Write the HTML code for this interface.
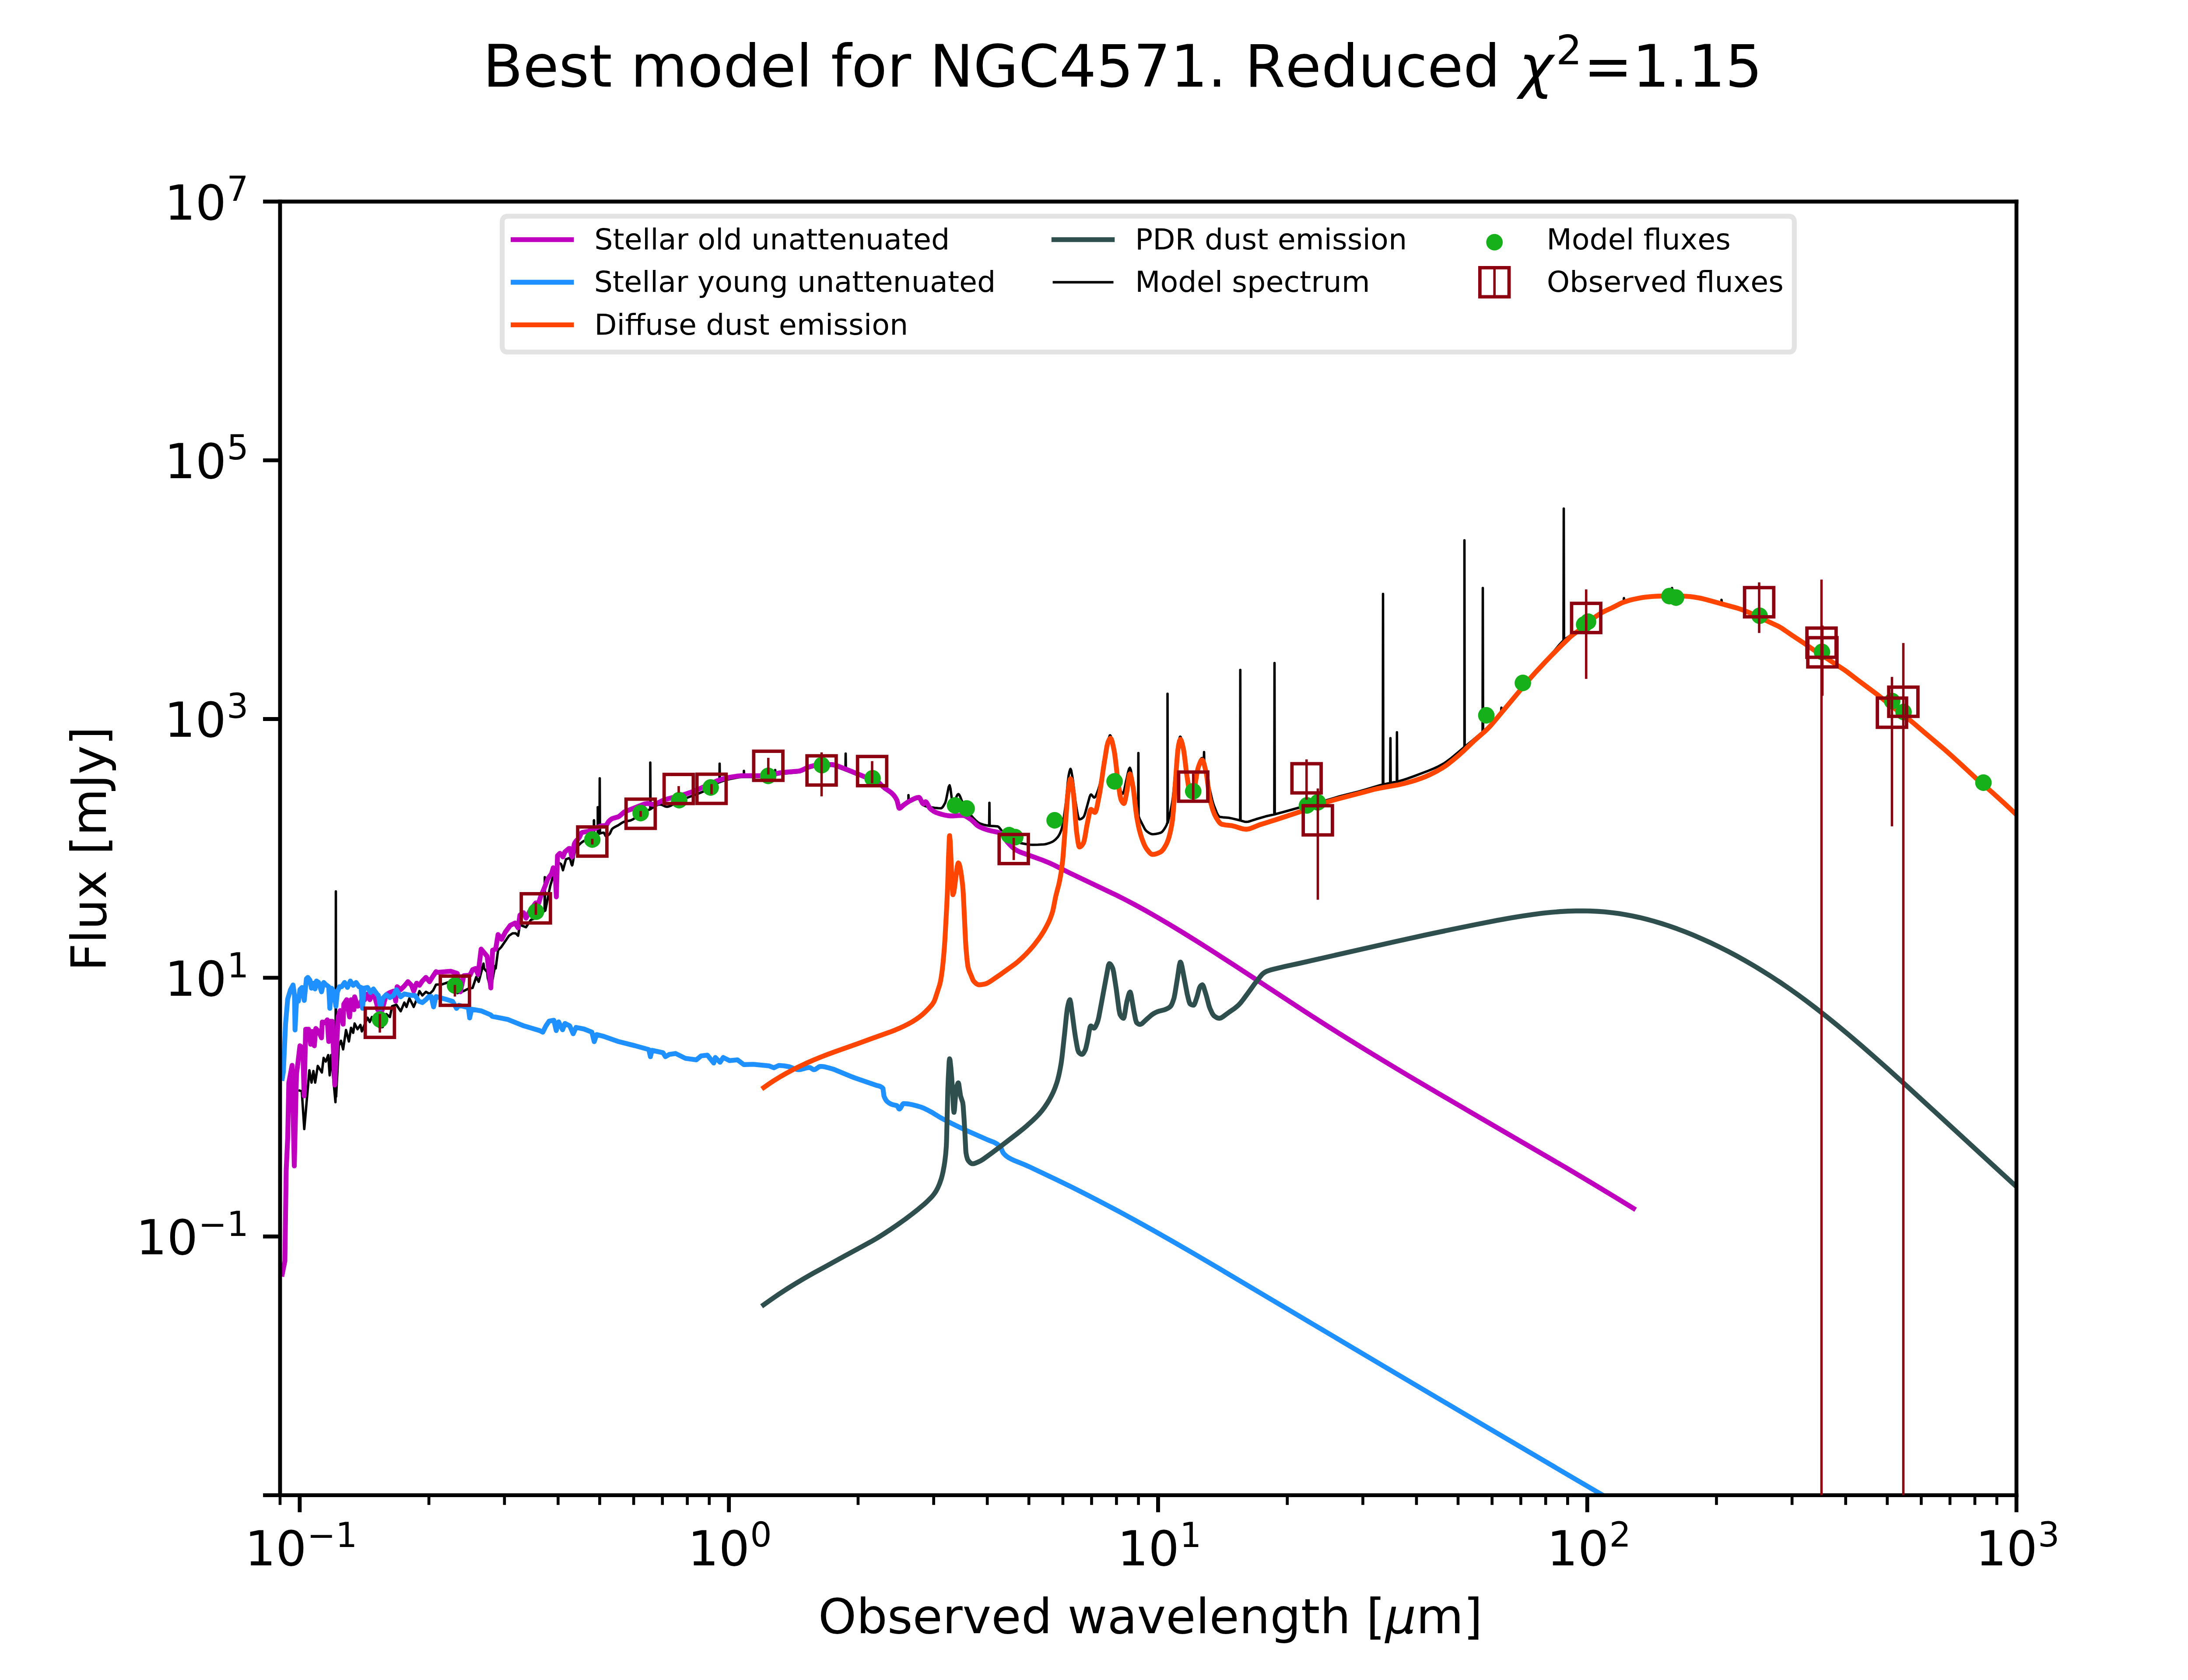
<!DOCTYPE html>
<html><head><meta charset="utf-8"><title>Best model for NGC4571</title>
<style>html,body{margin:0;padding:0;background:#fff;}body{width:5120px;height:3840px;overflow:hidden;font-family:"DejaVu Sans",sans-serif;}svg{display:block;}text{font-kerning:none;}</style>
</head><body>
<svg width="5120" height="3840" viewBox="0 0 460.8 345.6" version="1.1">
<defs>
<style type="text/css">*{stroke-linejoin: round; stroke-linecap: butt}</style>
</defs>
<g id="figure_1">
<g id="patch_1">
<path d="M 0 345.6 
L 460.8 345.6 
L 460.8 0 
L 0 0 
z
" style="fill: #ffffff"/>
</g>
<g id="axes_1">
<g id="patch_2">
<path d="M 57.6 307.584 
L 414.72 307.584 
L 414.72 41.472 
L 57.6 41.472 
z
" style="fill: #ffffff"/>
</g>
<g id="matplotlib.axis_1">
<g id="xtick_1">
<g id="line2d_1">
<defs>
<path id="m1504cfccaf" d="M 0 0 
L 0 3.5 
" style="stroke: #000000; stroke-width: 0.8"/>
</defs>
<g>
<use href="#m1504cfccaf" x="61.639" y="307.584" style="stroke: #000000; stroke-width: 0.8"/>
</g>
</g>
<g id="T_xt2" transform="translate(0.045 -0.045)">
<g transform="translate(50.304 322.144)">
<text>
<tspan x="0" y="-0.064" style="font-size: 10px; font-family: 'DejaVu Sans', sans-serif">1</tspan>
<tspan x="6.362" y="-0.064" style="font-size: 10px; font-family: 'DejaVu Sans', sans-serif">0</tspan>
<tspan x="12.82" y="-3.892" style="font-size: 7px; font-family: 'DejaVu Sans', sans-serif">−</tspan>
<tspan x="18.686" y="-3.892" style="font-size: 7px; font-family: 'DejaVu Sans', sans-serif">1</tspan>
</text>
</g>
</g>
</g>
<g id="xtick_2">
<g id="line2d_2">
<g>
<use href="#m1504cfccaf" x="149.909" y="307.584" style="stroke: #000000; stroke-width: 0.8"/>
</g>
</g>
<g id="T_xt3" transform="translate(0.045 0.810)">
<g transform="translate(141.417 322.171)">
<text>
<tspan x="0" y="-0.977" style="font-size: 10px; font-family: 'DejaVu Sans', sans-serif">1</tspan>
<tspan x="6.362" y="-0.977" style="font-size: 10px; font-family: 'DejaVu Sans', sans-serif">0</tspan>
<tspan x="12.82" y="-4.805" style="font-size: 7px; font-family: 'DejaVu Sans', sans-serif">0</tspan>
</text>
</g>
</g>
</g>
<g id="xtick_3">
<g id="line2d_3">
<g>
<use href="#m1504cfccaf" x="238.18" y="307.584" style="stroke: #000000; stroke-width: 0.8"/>
</g>
</g>
<g id="T_xt4" transform="translate(0.045 -0.045)">
<g transform="translate(229.777 322.144)">
<text>
<tspan x="0" y="-0.064" style="font-size: 10px; font-family: 'DejaVu Sans', sans-serif">1</tspan>
<tspan x="6.362" y="-0.064" style="font-size: 10px; font-family: 'DejaVu Sans', sans-serif">0</tspan>
<tspan x="12.82" y="-3.892" style="font-size: 7px; font-family: 'DejaVu Sans', sans-serif">1</tspan>
</text>
</g>
</g>
</g>
<g id="xtick_4">
<g id="line2d_4">
<g>
<use href="#m1504cfccaf" x="326.45" y="307.584" style="stroke: #000000; stroke-width: 0.8"/>
</g>
</g>
<g id="T_xt5" transform="translate(0.090 0.810)">
<g transform="translate(318.07 322.171)">
<text>
<tspan x="0" y="-0.977" style="font-size: 10px; font-family: 'DejaVu Sans', sans-serif">1</tspan>
<tspan x="6.362" y="-0.977" style="font-size: 10px; font-family: 'DejaVu Sans', sans-serif">0</tspan>
<tspan x="12.82" y="-4.805" style="font-size: 7px; font-family: 'DejaVu Sans', sans-serif">2</tspan>
</text>
</g>
</g>
</g>
<g id="xtick_5">
<g id="line2d_5">
<g>
<use href="#m1504cfccaf" x="414.72" y="307.584" style="stroke: #000000; stroke-width: 0.8"/>
</g>
</g>
<g id="T_xt6" transform="translate(0.045 0.810)">
<g transform="translate(406.273 322.171)">
<text>
<tspan x="0" y="-0.977" style="font-size: 10px; font-family: 'DejaVu Sans', sans-serif">1</tspan>
<tspan x="6.362" y="-0.977" style="font-size: 10px; font-family: 'DejaVu Sans', sans-serif">0</tspan>
<tspan x="12.82" y="-4.805" style="font-size: 7px; font-family: 'DejaVu Sans', sans-serif">3</tspan>
</text>
</g>
</g>
</g>
<g id="xtick_6">
<g id="line2d_6">
<defs>
<path id="m05db3bdf9b" d="M 0 0 
L 0 2 
" style="stroke: #000000; stroke-width: 0.6"/>
</defs>
<g>
<use href="#m05db3bdf9b" x="57.6" y="307.584" style="stroke: #000000; stroke-width: 0.6"/>
</g>
</g>
</g>
<g id="xtick_7">
<g id="line2d_7">
<g>
<use href="#m05db3bdf9b" x="88.211" y="307.584" style="stroke: #000000; stroke-width: 0.6"/>
</g>
</g>
</g>
<g id="xtick_8">
<g id="line2d_8">
<g>
<use href="#m05db3bdf9b" x="103.755" y="307.584" style="stroke: #000000; stroke-width: 0.6"/>
</g>
</g>
</g>
<g id="xtick_9">
<g id="line2d_9">
<g>
<use href="#m05db3bdf9b" x="114.783" y="307.584" style="stroke: #000000; stroke-width: 0.6"/>
</g>
</g>
</g>
<g id="xtick_10">
<g id="line2d_10">
<g>
<use href="#m05db3bdf9b" x="123.337" y="307.584" style="stroke: #000000; stroke-width: 0.6"/>
</g>
</g>
</g>
<g id="xtick_11">
<g id="line2d_11">
<g>
<use href="#m05db3bdf9b" x="130.327" y="307.584" style="stroke: #000000; stroke-width: 0.6"/>
</g>
</g>
</g>
<g id="xtick_12">
<g id="line2d_12">
<g>
<use href="#m05db3bdf9b" x="136.236" y="307.584" style="stroke: #000000; stroke-width: 0.6"/>
</g>
</g>
</g>
<g id="xtick_13">
<g id="line2d_13">
<g>
<use href="#m05db3bdf9b" x="141.355" y="307.584" style="stroke: #000000; stroke-width: 0.6"/>
</g>
</g>
</g>
<g id="xtick_14">
<g id="line2d_14">
<g>
<use href="#m05db3bdf9b" x="145.87" y="307.584" style="stroke: #000000; stroke-width: 0.6"/>
</g>
</g>
</g>
<g id="xtick_15">
<g id="line2d_15">
<g>
<use href="#m05db3bdf9b" x="176.481" y="307.584" style="stroke: #000000; stroke-width: 0.6"/>
</g>
</g>
</g>
<g id="xtick_16">
<g id="line2d_16">
<g>
<use href="#m05db3bdf9b" x="192.025" y="307.584" style="stroke: #000000; stroke-width: 0.6"/>
</g>
</g>
</g>
<g id="xtick_17">
<g id="line2d_17">
<g>
<use href="#m05db3bdf9b" x="203.053" y="307.584" style="stroke: #000000; stroke-width: 0.6"/>
</g>
</g>
</g>
<g id="xtick_18">
<g id="line2d_18">
<g>
<use href="#m05db3bdf9b" x="211.608" y="307.584" style="stroke: #000000; stroke-width: 0.6"/>
</g>
</g>
</g>
<g id="xtick_19">
<g id="line2d_19">
<g>
<use href="#m05db3bdf9b" x="218.597" y="307.584" style="stroke: #000000; stroke-width: 0.6"/>
</g>
</g>
</g>
<g id="xtick_20">
<g id="line2d_20">
<g>
<use href="#m05db3bdf9b" x="224.506" y="307.584" style="stroke: #000000; stroke-width: 0.6"/>
</g>
</g>
</g>
<g id="xtick_21">
<g id="line2d_21">
<g>
<use href="#m05db3bdf9b" x="229.625" y="307.584" style="stroke: #000000; stroke-width: 0.6"/>
</g>
</g>
</g>
<g id="xtick_22">
<g id="line2d_22">
<g>
<use href="#m05db3bdf9b" x="234.14" y="307.584" style="stroke: #000000; stroke-width: 0.6"/>
</g>
</g>
</g>
<g id="xtick_23">
<g id="line2d_23">
<g>
<use href="#m05db3bdf9b" x="264.752" y="307.584" style="stroke: #000000; stroke-width: 0.6"/>
</g>
</g>
</g>
<g id="xtick_24">
<g id="line2d_24">
<g>
<use href="#m05db3bdf9b" x="280.295" y="307.584" style="stroke: #000000; stroke-width: 0.6"/>
</g>
</g>
</g>
<g id="xtick_25">
<g id="line2d_25">
<g>
<use href="#m05db3bdf9b" x="291.323" y="307.584" style="stroke: #000000; stroke-width: 0.6"/>
</g>
</g>
</g>
<g id="xtick_26">
<g id="line2d_26">
<g>
<use href="#m05db3bdf9b" x="299.878" y="307.584" style="stroke: #000000; stroke-width: 0.6"/>
</g>
</g>
</g>
<g id="xtick_27">
<g id="line2d_27">
<g>
<use href="#m05db3bdf9b" x="306.867" y="307.584" style="stroke: #000000; stroke-width: 0.6"/>
</g>
</g>
</g>
<g id="xtick_28">
<g id="line2d_28">
<g>
<use href="#m05db3bdf9b" x="312.777" y="307.584" style="stroke: #000000; stroke-width: 0.6"/>
</g>
</g>
</g>
<g id="xtick_29">
<g id="line2d_29">
<g>
<use href="#m05db3bdf9b" x="317.895" y="307.584" style="stroke: #000000; stroke-width: 0.6"/>
</g>
</g>
</g>
<g id="xtick_30">
<g id="line2d_30">
<g>
<use href="#m05db3bdf9b" x="322.411" y="307.584" style="stroke: #000000; stroke-width: 0.6"/>
</g>
</g>
</g>
<g id="xtick_31">
<g id="line2d_31">
<g>
<use href="#m05db3bdf9b" x="353.022" y="307.584" style="stroke: #000000; stroke-width: 0.6"/>
</g>
</g>
</g>
<g id="xtick_32">
<g id="line2d_32">
<g>
<use href="#m05db3bdf9b" x="368.565" y="307.584" style="stroke: #000000; stroke-width: 0.6"/>
</g>
</g>
</g>
<g id="xtick_33">
<g id="line2d_33">
<g>
<use href="#m05db3bdf9b" x="379.594" y="307.584" style="stroke: #000000; stroke-width: 0.6"/>
</g>
</g>
</g>
<g id="xtick_34">
<g id="line2d_34">
<g>
<use href="#m05db3bdf9b" x="388.148" y="307.584" style="stroke: #000000; stroke-width: 0.6"/>
</g>
</g>
</g>
<g id="xtick_35">
<g id="line2d_35">
<g>
<use href="#m05db3bdf9b" x="395.137" y="307.584" style="stroke: #000000; stroke-width: 0.6"/>
</g>
</g>
</g>
<g id="xtick_36">
<g id="line2d_36">
<g>
<use href="#m05db3bdf9b" x="401.047" y="307.584" style="stroke: #000000; stroke-width: 0.6"/>
</g>
</g>
</g>
<g id="xtick_37">
<g id="line2d_37">
<g>
<use href="#m05db3bdf9b" x="406.166" y="307.584" style="stroke: #000000; stroke-width: 0.6"/>
</g>
</g>
</g>
<g id="xtick_38">
<g id="line2d_38">
<g>
<use href="#m05db3bdf9b" x="410.681" y="307.584" style="stroke: #000000; stroke-width: 0.6"/>
</g>
</g>
</g>
<g id="T_xlabel" transform="translate(0.090 0.360)">
<g transform="translate(168.181 335.981)">
<text>
<tspan x="0" y="-0.406" style="font-size: 10px; font-family: 'DejaVu Sans', sans-serif">O</tspan>
<tspan x="7.871" y="-0.406" style="font-size: 10px; font-family: 'DejaVu Sans', sans-serif">b</tspan>
<tspan x="14.219" y="-0.406" style="font-size: 10px; font-family: 'DejaVu Sans', sans-serif">s</tspan>
<tspan x="19.429" y="-0.406" style="font-size: 10px; font-family: 'DejaVu Sans', sans-serif">e</tspan>
<tspan x="25.581" y="-0.406" style="font-size: 10px; font-family: 'DejaVu Sans', sans-serif">r</tspan>
<tspan x="29.692" y="-0.406" style="font-size: 10px; font-family: 'DejaVu Sans', sans-serif">v</tspan>
<tspan x="35.61" y="-0.406" style="font-size: 10px; font-family: 'DejaVu Sans', sans-serif">e</tspan>
<tspan x="41.763" y="-0.406" style="font-size: 10px; font-family: 'DejaVu Sans', sans-serif">d</tspan>
<tspan x="48.11" y="-0.406" style="font-size: 10px; font-family: 'DejaVu Sans', sans-serif"> </tspan>
<tspan x="51.289" y="-0.406" style="font-size: 10px; font-family: 'DejaVu Sans', sans-serif">w</tspan>
<tspan x="59.468" y="-0.406" style="font-size: 10px; font-family: 'DejaVu Sans', sans-serif">a</tspan>
<tspan x="65.596" y="-0.406" style="font-size: 10px; font-family: 'DejaVu Sans', sans-serif">v</tspan>
<tspan x="71.514" y="-0.406" style="font-size: 10px; font-family: 'DejaVu Sans', sans-serif">e</tspan>
<tspan x="77.666" y="-0.406" style="font-size: 10px; font-family: 'DejaVu Sans', sans-serif">l</tspan>
<tspan x="80.444" y="-0.406" style="font-size: 10px; font-family: 'DejaVu Sans', sans-serif">e</tspan>
<tspan x="86.597" y="-0.406" style="font-size: 10px; font-family: 'DejaVu Sans', sans-serif">n</tspan>
<tspan x="92.935" y="-0.406" style="font-size: 10px; font-family: 'DejaVu Sans', sans-serif">g</tspan>
<tspan x="99.282" y="-0.406" style="font-size: 10px; font-family: 'DejaVu Sans', sans-serif">t</tspan>
<tspan x="103.203" y="-0.406" style="font-size: 10px; font-family: 'DejaVu Sans', sans-serif">h</tspan>
<tspan x="109.541" y="-0.406" style="font-size: 10px; font-family: 'DejaVu Sans', sans-serif"> </tspan>
<tspan x="112.72" y="-0.406" style="font-size: 10px; font-family: 'DejaVu Sans', sans-serif">[</tspan>
<tspan x="122.983" y="-0.406" style="font-size: 10px; font-family: 'DejaVu Sans', sans-serif">m</tspan>
<tspan x="132.725" y="-0.406" style="font-size: 10px; font-family: 'DejaVu Sans', sans-serif">]</tspan>
<tspan x="116.621" y="-0.406" style="font-style: oblique; font-size: 10px; font-family: 'DejaVu Sans', sans-serif">μ</tspan>
</text>
</g>
</g>
</g>
<g id="matplotlib.axis_2">
<g id="ytick_1">
<g id="line2d_39">
<defs>
<path id="m5d545ce8f8" d="M 0 0 
L -3.5 0 
" style="stroke: #000000; stroke-width: 0.8"/>
</defs>
<g>
<use href="#m5d545ce8f8" x="57.6" y="307.584" style="stroke: #000000; stroke-width: 0.8"/>
</g>
</g>
</g>
<g id="ytick_2">
<g id="line2d_40">
<g>
<use href="#m5d545ce8f8" x="57.6" y="254.362" style="stroke: #000000; stroke-width: 0.8"/>
</g>
</g>
<g id="T_yt1" transform="translate(0.045 -0.045)">
<g transform="translate(27.929 258.142)">
<text>
<tspan x="0" y="-0.064" style="font-size: 10px; font-family: 'DejaVu Sans', sans-serif">1</tspan>
<tspan x="6.362" y="-0.064" style="font-size: 10px; font-family: 'DejaVu Sans', sans-serif">0</tspan>
<tspan x="12.82" y="-3.892" style="font-size: 7px; font-family: 'DejaVu Sans', sans-serif">−</tspan>
<tspan x="18.686" y="-3.892" style="font-size: 7px; font-family: 'DejaVu Sans', sans-serif">1</tspan>
</text>
</g>
</g>
</g>
<g id="ytick_3">
<g id="line2d_41">
<g>
<use href="#m5d545ce8f8" x="57.6" y="201.139" style="stroke: #000000; stroke-width: 0.8"/>
</g>
</g>
<g id="T_yt2" transform="translate(0.090 0.000)">
<g transform="translate(33.795 204.919)">
<text>
<tspan x="0" y="-0.064" style="font-size: 10px; font-family: 'DejaVu Sans', sans-serif">1</tspan>
<tspan x="6.362" y="-0.064" style="font-size: 10px; font-family: 'DejaVu Sans', sans-serif">0</tspan>
<tspan x="12.82" y="-3.892" style="font-size: 7px; font-family: 'DejaVu Sans', sans-serif">1</tspan>
</text>
</g>
</g>
</g>
<g id="ytick_4">
<g id="line2d_42">
<g>
<use href="#m5d545ce8f8" x="57.6" y="147.917" style="stroke: #000000; stroke-width: 0.8"/>
</g>
</g>
<g id="T_yt3" transform="translate(0.090 0.810)">
<g transform="translate(33.705 151.71)">
<text>
<tspan x="0" y="-0.977" style="font-size: 10px; font-family: 'DejaVu Sans', sans-serif">1</tspan>
<tspan x="6.362" y="-0.977" style="font-size: 10px; font-family: 'DejaVu Sans', sans-serif">0</tspan>
<tspan x="12.82" y="-4.805" style="font-size: 7px; font-family: 'DejaVu Sans', sans-serif">3</tspan>
</text>
</g>
</g>
</g>
<g id="ytick_5">
<g id="line2d_43">
<g>
<use href="#m5d545ce8f8" x="57.6" y="94.694" style="stroke: #000000; stroke-width: 0.8"/>
</g>
</g>
<g id="T_yt4" transform="translate(0.090 -0.045)">
<g transform="translate(33.761 98.474)">
<text>
<tspan x="0" y="-0.064" style="font-size: 10px; font-family: 'DejaVu Sans', sans-serif">1</tspan>
<tspan x="6.362" y="-0.064" style="font-size: 10px; font-family: 'DejaVu Sans', sans-serif">0</tspan>
<tspan x="12.82" y="-3.892" style="font-size: 7px; font-family: 'DejaVu Sans', sans-serif">5</tspan>
</text>
</g>
</g>
</g>
<g id="ytick_6">
<g id="line2d_44">
<g>
<use href="#m5d545ce8f8" x="57.6" y="41.472" style="stroke: #000000; stroke-width: 0.8"/>
</g>
</g>
<g id="T_yt5" transform="translate(0.090 -0.045)">
<g transform="translate(33.739 45.252)">
<text>
<tspan x="0" y="-0.064" style="font-size: 10px; font-family: 'DejaVu Sans', sans-serif">1</tspan>
<tspan x="6.362" y="-0.064" style="font-size: 10px; font-family: 'DejaVu Sans', sans-serif">0</tspan>
<tspan x="12.82" y="-3.892" style="font-size: 7px; font-family: 'DejaVu Sans', sans-serif">7</tspan>
</text>
</g>
</g>
</g>
<g id="T_ylabel" transform="translate(-0.090 0.090)">
<text style="font-size: 10px; font-family: 'DejaVu Sans', sans-serif; text-anchor: middle" x="21.859" y="174.528" transform="rotate(-90 21.859 174.528)">Flux [mJy]</text>
</g>
</g>
<g id="line2d_45">
<path d="M 61.623 224.352 
L 62.073 224.496 
L 62.577 232.263 
L 63.63 220.167 
L 64.071 222.705 
L 64.458 220.32 
L 64.818 222.705 
L 65.358 219.276 
L 66.195 220.617 
L 66.555 217.629 
L 66.996 218.376 
L 67.509 217.035 
L 67.806 221.22 
L 68.103 217.035 
L 68.994 226.737 
L 69.021 225.562 
L 69.075 183.375 
L 69.129 225.562 
L 69.678 215.136 
L 70.128 214.101 
L 70.569 215.874 
L 71.163 211.878 
L 71.757 214.245 
L 72.198 211.428 
L 72.639 212.472 
L 72.936 210.546 
L 73.53 211.725 
L 74.124 210.843 
L 74.421 212.175 
L 75.015 210.69 
L 75.6 209.358 
L 76.05 210.24 
L 76.491 209.214 
L 77.976 211.284 
L 78.714 211.284 
L 79.452 208.62 
L 80.19 209.214 
L 80.64 206.991 
L 81.531 206.694 
L 82.413 208.026 
L 83.16 206.244 
L 83.601 207.135 
L 84.195 205.362 
L 85.086 207.135 
L 85.68 205.65 
L 86.265 203.877 
L 86.859 204.768 
L 87.597 204.03 
L 88.344 204.471 
L 89.082 203.733 
L 89.676 202.545 
L 90.9 202.5 
L 92.25 202.05 
L 94.05 204.3 
L 95.4 203.85 
L 96.3 203.4 
L 97.2 203.22 
L 97.947 200.97 
L 98.451 201.969 
L 99.441 198.225 
L 99.567 199.224 
L 100.197 199.98 
L 100.323 201.222 
L 100.944 203.463 
L 101.817 198.729 
L 101.943 199.224 
L 102.438 195.48 
L 103.059 194.859 
L 104.688 192.492 
L 105.435 191.988 
L 106.056 191.988 
L 106.56 192.492 
L 106.929 190.242 
L 108.18 190.746 
L 109.179 189.243 
L 110.421 188.748 
L 111.996 187.354 
L 112.05 180.45 
L 112.104 187.354 
L 112.167 187.254 
L 113.166 182.259 
L 114.66 177.273 
L 115.416 177.768 
L 115.785 179.019 
L 116.406 176.769 
L 117 176.538 
L 117.18 176.532 
L 117.36 177.052 
L 117.54 177.809 
L 117.657 178.02 
L 117.72 177.93 
L 117.9 176.985 
L 118.08 175.824 
L 118.152 175.527 
L 118.26 175.23 
L 118.44 174.81 
L 118.62 174.467 
L 118.908 174.033 
L 119.16 173.725 
L 119.52 173.38 
L 119.88 173.125 
L 120.24 172.913 
L 120.78 172.645 
L 122.04 172.088 
L 122.121 172.021 
L 122.148 172.035 
L 122.148 168.786 
L 122.175 168.75 
L 122.202 172.035 
L 122.22 171.998 
L 122.229 172.021 
L 122.4 171.9 
L 122.94 171.613 
L 122.94 166.05 
L 122.994 171.613 
L 123.291 171.465 
L 123.3 171.48 
L 123.345 160.11 
L 123.399 171.465 
L 123.48 171.419 
L 123.84 171.321 
L 124.146 171.288 
L 124.2 171.313 
L 124.56 171.982 
L 124.641 172.035 
L 124.74 172.023 
L 124.92 171.944 
L 125.1 171.811 
L 125.388 171.531 
L 125.46 171.429 
L 125.82 170.631 
L 125.892 170.532 
L 126 170.431 
L 126.18 170.291 
L 126.54 170.083 
L 127.134 169.785 
L 127.62 169.46 
L 127.98 169.225 
L 128.34 169.052 
L 128.52 169.001 
L 129.06 168.903 
L 129.6 168.796 
L 129.78 168.738 
L 130.14 168.566 
L 130.5 168.341 
L 131.814 167.436 
L 132.48 167.085 
L 133.74 166.464 
L 133.74 156.87 
L 133.794 166.464 
L 133.92 166.367 
L 134.46 166.023 
L 135 165.695 
L 135.36 165.542 
L 135.54 165.498 
L 135.72 165.483 
L 135.9 165.503 
L 136.08 165.558 
L 136.44 165.721 
L 136.8 165.885 
L 136.98 165.94 
L 137.16 165.96 
L 137.34 165.947 
L 137.52 165.91 
L 137.88 165.775 
L 138.24 165.583 
L 139.626 164.754 
L 140.4 164.44 
L 141.66 163.979 
L 143.28 163.387 
L 144.72 162.804 
L 145.485 162.45 
L 145.8 162.273 
L 146.34 161.913 
L 147.24 161.286 
L 147.6 161.073 
L 147.96 160.906 
L 148.005 157.095 
L 148.059 160.888 
L 148.14 160.836 
L 148.86 160.585 
L 149.58 160.379 
L 150.372 160.2 
L 151.92 159.908 
L 152.46 159.852 
L 153 159.84 
L 153 158.58 
L 153.054 159.84 
L 156.96 159.823 
L 158.22 159.782 
L 158.58 159.718 
L 159.12 159.565 
L 159.381 159.466 
L 159.435 158.4 
L 159.489 159.466 
L 159.66 159.4 
L 160.11 159.3 
L 161.1 159.171 
L 162.54 159.03 
L 164.34 158.881 
L 164.7 158.784 
L 165.06 158.636 
L 166.32 158.05 
L 167.04 157.847 
L 167.76 157.665 
L 168.3 157.573 
L 168.75 157.545 
L 171.18 157.553 
L 171.54 157.609 
L 171.9 157.709 
L 172.44 157.907 
L 173.34 158.251 
L 173.7 158.384 
L 173.871 158.471 
L 173.88 158.453 
L 173.925 155.025 
L 173.979 158.471 
L 174.06 158.525 
L 177.84 160.05 
L 178.38 160.203 
L 179.46 160.489 
L 179.82 160.618 
L 180.18 160.792 
L 180.54 161.064 
L 180.9 161.403 
L 181.62 162.116 
L 181.98 162.409 
L 182.52 162.775 
L 183.06 163.145 
L 183.42 163.444 
L 183.78 163.817 
L 183.96 164.042 
L 184.14 164.303 
L 184.32 164.609 
L 184.5 164.97 
L 184.86 166.372 
L 184.95 166.5 
L 185.04 166.488 
L 185.22 166.403 
L 185.58 166.097 
L 185.85 165.87 
L 186.66 165.293 
L 186.786 165.174 
L 186.84 165.174 
L 186.84 163.575 
L 186.894 165.174 
L 187.02 165.065 
L 187.92 164.606 
L 188.28 164.449 
L 188.64 164.337 
L 189 164.295 
L 189.18 164.42 
L 189.36 164.725 
L 189.72 165.444 
L 189.9 165.645 
L 190.26 165.806 
L 190.62 165.922 
L 191.16 166.035 
L 192.24 166.191 
L 192.96 166.258 
L 193.5 166.275 
L 193.68 166.213 
L 193.86 166.044 
L 194.04 165.793 
L 194.4 165.15 
L 194.58 164.556 
L 195.12 161.87 
L 195.3 161.55 
L 195.48 162.221 
L 195.84 164.977 
L 195.975 165.375 
L 196.02 165.366 
L 196.2 165.164 
L 196.38 164.777 
L 196.74 163.839 
L 196.92 163.489 
L 197.1 163.35 
L 197.28 163.487 
L 197.46 163.833 
L 197.82 164.762 
L 198 165.15 
L 198.72 166.361 
L 199.26 167.172 
L 199.62 167.641 
L 200.16 168.246 
L 200.7 168.799 
L 201.06 169.107 
L 201.42 169.342 
L 201.78 169.492 
L 202.32 169.664 
L 202.86 169.791 
L 203.436 169.884 
L 203.49 165.15 
L 203.544 169.884 
L 203.58 169.893 
L 204.48 169.942 
L 205.02 169.985 
L 205.2 170.01 
L 205.38 170.101 
L 205.56 170.288 
L 206.1 171 
L 206.64 171.614 
L 207.18 172.226 
L 207.54 172.565 
L 207.72 172.698 
L 208.08 172.881 
L 208.62 173.09 
L 209.16 173.254 
L 209.88 173.422 
L 211.32 173.693 
L 211.86 173.763 
L 212.4 173.79 
L 213.48 173.767 
L 214.65 173.7 
L 214.92 173.669 
L 215.28 173.595 
L 215.82 173.427 
L 216.36 173.208 
L 216.72 172.996 
L 217.08 172.7 
L 217.44 172.322 
L 217.62 172.098 
L 217.8 171.821 
L 217.98 171.476 
L 218.16 171.056 
L 218.34 170.55 
L 218.52 169.836 
L 218.7 168.849 
L 219.06 166.362 
L 219.24 164.911 
L 219.6 160.967 
L 219.78 159.57 
L 219.96 158.7 
L 220.14 158.193 
L 220.176 158.175 
L 220.32 158.505 
L 220.59 160.02 
L 220.68 160.613 
L 221.22 165.04 
L 221.58 167.215 
L 221.76 168.059 
L 221.94 168.515 
L 222.003 168.552 
L 222.12 168.541 
L 222.3 168.484 
L 222.48 168.387 
L 222.822 168.12 
L 222.84 168.102 
L 223.02 167.764 
L 223.2 167.214 
L 224.1 163.934 
L 224.28 163.503 
L 224.37 163.44 
L 224.46 163.47 
L 224.64 163.657 
L 224.82 163.899 
L 225 164.059 
L 225.054 164.07 
L 225.18 164.011 
L 225.36 163.752 
L 225.54 163.349 
L 225.9 162.376 
L 226.08 161.781 
L 226.26 161.036 
L 226.62 159.224 
L 226.8 158.22 
L 226.89 156.753 
L 226.944 157.707 
L 226.98 157.193 
L 227.34 155.199 
L 227.52 154.295 
L 228.06 151.831 
L 228.24 151.309 
L 228.312 151.254 
L 228.42 151.366 
L 228.6 151.944 
L 228.96 153.669 
L 229.14 154.717 
L 229.734 158.76 
L 230.22 161.641 
L 230.4 162.449 
L 230.58 162.898 
L 230.76 163.151 
L 230.94 163.26 
L 231.12 162.914 
L 231.3 162.113 
L 231.57 160.83 
L 231.66 160.468 
L 232.02 158.822 
L 232.2 158.198 
L 232.38 157.95 
L 232.56 158.337 
L 232.74 159.268 
L 233.1 161.545 
L 233.64 166.054 
L 233.82 166.989 
L 234 167.566 
L 234.072 167.887 
L 234.126 154.917 
L 234.18 168.025 
L 234.18 167.887 
L 234.36 168.412 
L 235.44 170.523 
L 235.62 170.78 
L 235.836 171 
L 236.34 171.356 
L 236.7 171.534 
L 236.88 171.585 
L 237.06 171.603 
L 237.42 171.587 
L 237.78 171.54 
L 238.32 171.422 
L 238.68 171.315 
L 238.86 171.226 
L 239.04 171.078 
L 239.22 170.879 
L 239.4 170.635 
L 239.76 170.038 
L 239.94 169.695 
L 240.066 169.26 
L 240.12 169.26 
L 240.12 142.713 
L 240.174 169.26 
L 240.3 168.706 
L 240.48 168.037 
L 240.66 167.26 
L 241.02 165.403 
L 241.2 164.249 
L 241.38 162.531 
L 241.74 158.448 
L 242.1 155.242 
L 242.28 153.709 
L 242.46 152.423 
L 242.64 151.651 
L 242.73 151.542 
L 242.82 151.608 
L 243 152.075 
L 243.18 152.854 
L 243.72 155.718 
L 244.26 159.333 
L 244.8 162.177 
L 244.98 162.898 
L 245.16 163.249 
L 245.196 163.26 
L 245.34 163.013 
L 245.52 162.174 
L 245.88 159.876 
L 246.06 159.004 
L 246.42 157.489 
L 246.6 156.853 
L 246.825 156.33 
L 246.96 156.141 
L 247.14 155.962 
L 247.23 155.934 
L 247.32 155.985 
L 247.5 156.356 
L 247.581 156.846 
L 247.635 154.71 
L 247.68 157.01 
L 247.689 156.846 
L 248.04 158.794 
L 248.4 160.595 
L 248.76 162.136 
L 249.3 164.489 
L 249.48 165.149 
L 249.66 165.69 
L 250.2 167.074 
L 250.38 167.461 
L 250.56 167.77 
L 250.74 167.978 
L 250.92 168.062 
L 251.46 168.128 
L 252.72 168.238 
L 253.44 168.377 
L 254.7 168.685 
L 255.06 168.772 
L 255.087 137.826 
L 255.141 168.78 
L 255.24 168.824 
L 255.96 169.036 
L 256.32 169.074 
L 256.68 169.038 
L 257.04 168.951 
L 257.58 168.767 
L 258.3 168.526 
L 260.28 167.944 
L 262.08 167.535 
L 262.125 136.404 
L 262.179 167.524 
L 262.26 167.49 
L 263.88 167.062 
L 266.94 166.205 
L 268.92 165.657 
L 272.34 164.769 
L 275.58 163.799 
L 277.2 163.395 
L 279.36 162.855 
L 280.62 162.492 
L 283.86 161.525 
L 284.4 161.389 
L 284.445 122.175 
L 284.499 161.378 
L 284.58 161.347 
L 285.66 161.12 
L 285.912 161.059 
L 285.966 151.866 
L 286.02 161.059 
L 286.56 160.942 
L 287.28 160.789 
L 287.307 150.642 
L 287.361 160.783 
L 287.64 160.705 
L 288.54 160.462 
L 289.44 160.175 
L 290.7 159.724 
L 293.76 158.555 
L 294.84 158.11 
L 295.74 157.696 
L 296.55 157.275 
L 297 157.009 
L 297.54 156.648 
L 298.26 156.111 
L 299.16 155.378 
L 300.96 153.858 
L 301.131 153.675 
L 301.14 153.711 
L 301.185 153.675 
L 301.185 111.15 
L 301.239 153.675 
L 301.32 153.566 
L 302.76 152.376 
L 304.74 150.722 
L 304.911 150.529 
L 304.92 150.568 
L 304.965 120.96 
L 305.019 150.529 
L 305.1 150.413 
L 305.82 149.755 
L 306.36 149.209 
L 307.08 148.401 
L 308.7 146.487 
L 308.736 146.38 
L 308.79 145.575 
L 308.844 146.38 
L 308.88 146.272 
L 315 138.944 
L 316.26 137.558 
L 317.7 136.025 
L 319.14 134.502 
L 319.86 133.655 
L 320.76 132.579 
L 321.3 132.001 
L 321.48 131.829 
L 321.561 131.71 
L 321.615 104.625 
L 321.669 131.71 
L 321.84 131.524 
L 322.38 131.136 
L 324.54 129.691 
L 325.26 129.178 
L 325.8 128.746 
L 326.34 128.248 
L 327.24 127.396 
L 327.699 127.017 
L 328.5 126.443 
L 329.22 125.981 
L 329.877 125.613 
L 330.3 125.414 
L 331.38 124.941 
L 332.1 124.562 
L 333 124.084 
L 333.54 123.842 
L 333.936 123.677 
L 333.99 123.03 
L 334.044 123.677 
L 334.08 123.645 
L 334.98 123.358 
L 335.7 123.165 
L 336.6 122.966 
L 337.68 122.766 
L 338.58 122.646 
L 340.02 122.514 
L 341.1 122.458 
L 343.26 122.405 
L 343.836 122.4 
L 343.89 120.96 
L 343.944 122.4 
L 345.06 122.415 
L 346.68 122.479 
L 347.58 122.539 
L 348.3 122.63 
L 349.56 122.842 
L 350.28 122.997 
L 351.36 123.284 
L 354.06 124.018 
L 354.06 123.39 
L 354.114 124.018 
L 354.42 124.117 
L 357.48 124.975 
L 358.2 125.208 
L 358.92 125.486 
L 359.82 125.882 
L 365.76 128.657 
L 366.3 128.964 
L 367.02 129.436 
L 369 130.793 
L 370.98 132.088 
L 373.68 133.949 
L 376.74 135.947 
L 378.36 136.99 
L 379.35 137.646 
L 380.16 138.239 
L 384.12 141.236 
L 386.1 142.707 
L 387.54 143.865 
L 389.7 145.585 
L 390.96 146.555 
L 392.805 147.96 
L 393.84 148.815 
L 396 150.677 
L 397.8 152.191 
L 399.636 153.747 
L 401.22 155.152 
L 403.56 157.287 
L 406.44 159.953 
L 408.06 161.363 
L 409.86 162.94 
L 412.2 165.05 
L 413.46 166.232 
L 414.9 167.584 
L 416.7 169.216 
L 417.6 170.01 
L 417.6 170.01 
" clip-path="url(#p02d3b5d28d)" style="fill: none; stroke: #000000; stroke-width: 0.5; stroke-linecap: square"/>
</g>
<g id="line2d_46">
<path d="M 58.05 262.125 
L 58.59 259.425 
L 58.86 240.75 
L 59.175 234 
L 59.4 222.75 
L 60.075 219.15 
L 60.525 239.85 
L 60.975 220.95 
L 61.236 218.97 
L 61.686 215.136 
L 62.28 215.577 
L 62.55 225.45 
L 62.865 211.725 
L 63.459 211.725 
L 63.9 214.83 
L 64.197 212.175 
L 64.647 215.136 
L 64.944 211.581 
L 65.538 212.175 
L 66.123 213.507 
L 66.276 210.24 
L 66.87 210.393 
L 67.311 209.799 
L 67.608 214.245 
L 67.905 210.096 
L 68.346 210.096 
L 68.85 223.2 
L 69.534 209.214 
L 69.975 207.873 
L 70.569 210.69 
L 70.713 206.55 
L 71.307 205.65 
L 71.901 209.214 
L 72.198 205.65 
L 72.792 207.72 
L 72.936 205.065 
L 73.53 206.991 
L 73.971 206.838 
L 74.421 205.65 
L 75.015 205.65 
L 75.6 204.471 
L 76.05 205.65 
L 76.491 204.768 
L 77.085 205.065 
L 77.526 206.694 
L 77.679 207.72 
L 77.976 207.432 
L 78.57 207.873 
L 79.155 205.65 
L 79.452 204.615 
L 80.19 204.174 
L 80.937 203.877 
L 81.378 205.956 
L 81.675 202.986 
L 82.413 203.58 
L 83.16 202.842 
L 83.898 201.951 
L 84.636 202.698 
L 85.086 203.877 
L 85.68 202.248 
L 86.265 202.698 
L 86.859 201.807 
L 87.597 201.06 
L 88.344 201.951 
L 89.082 200.772 
L 89.676 199.881 
L 90 200.025 
L 92.7 199.8 
L 94.05 200.25 
L 94.68 204.03 
L 95.4 200.7 
L 96.66 200.61 
L 97.2 199.476 
L 97.821 199.224 
L 98.325 200.475 
L 98.946 195.237 
L 100.197 196.731 
L 100.944 203.22 
L 101.313 195.48 
L 101.943 195.237 
L 102.438 192.24 
L 103.185 193.239 
L 103.932 191.745 
L 104.931 190.368 
L 105.93 189.873 
L 106.56 190.872 
L 106.929 188.253 
L 107.676 187.749 
L 108.18 188.874 
L 108.927 187.497 
L 110.169 185.751 
L 110.799 185.751 
L 111.168 184.509 
L 111.915 182.763 
L 112.671 180.765 
L 113.418 179.766 
L 113.787 178.515 
L 114.165 178.767 
L 114.417 184.509 
L 114.66 176.022 
L 115.164 175.527 
L 115.785 176.274 
L 116.163 175.275 
L 117 174.553 
L 117.18 174.535 
L 117.36 175.143 
L 117.54 176.027 
L 117.657 176.274 
L 117.72 176.167 
L 117.9 175.072 
L 118.08 173.802 
L 118.152 173.529 
L 118.26 173.316 
L 118.44 173.049 
L 118.8 172.688 
L 118.98 172.506 
L 119.16 172.264 
L 119.52 171.452 
L 119.655 171.288 
L 119.88 171.213 
L 120.24 171.144 
L 120.78 171.064 
L 121.14 170.959 
L 121.68 170.736 
L 123.48 169.949 
L 123.84 169.882 
L 124.56 169.804 
L 124.641 169.785 
L 124.74 169.71 
L 125.145 169.038 
L 125.46 168.721 
L 125.64 168.571 
L 125.892 168.417 
L 126.18 168.309 
L 127.134 168.039 
L 127.26 167.972 
L 127.44 167.842 
L 128.385 167.04 
L 128.7 166.892 
L 129.24 166.691 
L 129.96 166.414 
L 132.3 165.469 
L 132.66 165.363 
L 133.02 165.302 
L 133.2 165.294 
L 133.38 165.309 
L 134.28 165.483 
L 134.64 165.434 
L 135 165.316 
L 135.36 165.152 
L 136.44 164.606 
L 136.8 164.481 
L 137.52 164.285 
L 140.04 163.652 
L 141.12 163.31 
L 142.38 162.868 
L 143.28 162.516 
L 144.54 161.969 
L 146.52 161.065 
L 147.42 160.657 
L 147.96 160.458 
L 148.86 160.182 
L 149.58 159.995 
L 150.3 159.851 
L 151.74 159.64 
L 152.46 159.578 
L 153.18 159.57 
L 156.96 159.553 
L 158.22 159.512 
L 158.58 159.448 
L 159.12 159.295 
L 159.84 159.083 
L 160.2 159.016 
L 161.28 158.881 
L 162.9 158.732 
L 164.25 158.625 
L 164.52 158.57 
L 164.88 158.445 
L 165.42 158.191 
L 166.14 157.848 
L 166.5 157.725 
L 167.76 157.395 
L 168.3 157.303 
L 168.75 157.275 
L 171.18 157.283 
L 171.54 157.339 
L 171.9 157.439 
L 172.44 157.637 
L 173.34 157.981 
L 174.06 158.255 
L 177.84 159.78 
L 178.38 159.933 
L 179.46 160.219 
L 179.82 160.348 
L 180.18 160.522 
L 180.54 160.794 
L 180.9 161.133 
L 181.62 161.846 
L 181.98 162.139 
L 182.52 162.505 
L 183.06 162.875 
L 183.42 163.174 
L 183.78 163.547 
L 183.96 163.77 
L 184.14 164.03 
L 184.32 164.336 
L 184.5 164.7 
L 184.86 166.143 
L 184.95 166.275 
L 185.04 166.262 
L 185.22 166.169 
L 185.58 165.84 
L 185.85 165.6 
L 186.84 164.902 
L 187.2 164.7 
L 188.28 164.179 
L 188.64 164.067 
L 189 164.025 
L 189.18 164.165 
L 189.36 164.5 
L 189.54 164.9 
L 189.72 165.235 
L 189.9 165.375 
L 190.08 165.217 
L 190.26 164.972 
L 190.35 164.925 
L 190.44 164.955 
L 190.62 165.163 
L 191.16 166.168 
L 191.34 166.359 
L 191.7 166.663 
L 192.06 166.913 
L 192.42 167.104 
L 192.96 167.298 
L 193.68 167.521 
L 194.4 167.699 
L 194.94 167.793 
L 195.48 167.843 
L 196.02 167.845 
L 196.92 167.788 
L 197.82 167.735 
L 198.18 167.75 
L 198.36 167.796 
L 198.72 167.96 
L 199.08 168.186 
L 199.8 168.682 
L 200.16 169.008 
L 200.88 169.714 
L 201.06 169.858 
L 201.42 170.07 
L 201.96 170.32 
L 202.5 170.527 
L 203.4 170.816 
L 203.94 170.943 
L 205.2 171.205 
L 205.56 171.323 
L 205.74 171.396 
L 205.92 171.509 
L 206.1 171.683 
L 206.28 171.903 
L 206.64 172.428 
L 207 172.974 
L 207.18 173.22 
L 207.54 173.617 
L 208.08 174.16 
L 208.44 174.484 
L 208.8 174.758 
L 209.16 174.969 
L 209.7 175.226 
L 210.42 175.505 
L 214.38 176.928 
L 215.82 177.515 
L 216.72 177.926 
L 217.8 178.462 
L 220.32 179.738 
L 222.39 180.726 
L 229.5 184.098 
L 231.48 185.098 
L 233.46 186.144 
L 235.62 187.33 
L 237.96 188.664 
L 240.48 190.148 
L 243.36 191.891 
L 246.42 193.792 
L 249.84 195.963 
L 253.98 198.642 
L 259.74 202.423 
L 268.38 208.093 
L 272.52 210.76 
L 276.3 213.148 
L 280.44 215.714 
L 284.76 218.346 
L 289.62 221.259 
L 295.2 224.555 
L 302.22 228.652 
L 321.66 239.969 
L 327.24 243.28 
L 332.1 246.211 
L 335.97 248.583 
L 335.97 248.583 
" clip-path="url(#p02d3b5d28d)" style="fill: none; stroke: #bf00bf; stroke-linecap: square"/>
</g>
<g id="line2d_47">
<path d="M 58.05 221.85 
L 58.275 220.5 
L 58.725 210.69 
L 59.166 205.506 
L 59.76 203.58 
L 60.273 202.617 
L 60.57 204.75 
L 60.678 211.878 
L 61.02 205.065 
L 61.38 205.956 
L 61.686 203.58 
L 62.127 203.13 
L 62.568 205.803 
L 63.018 201.357 
L 63.315 201.06 
L 63.756 201.654 
L 64.053 203.283 
L 64.494 202.248 
L 64.8 203.436 
L 65.088 201.807 
L 65.538 202.104 
L 66.123 204.03 
L 66.573 202.104 
L 67.014 202.545 
L 67.608 202.986 
L 67.833 207.432 
L 68.202 203.283 
L 68.643 203.877 
L 69.084 206.991 
L 69.39 204.03 
L 69.831 202.986 
L 70.272 202.986 
L 70.866 202.104 
L 71.46 203.13 
L 72.054 201.807 
L 72.639 202.698 
L 73.233 202.104 
L 73.827 202.986 
L 74.268 203.13 
L 74.565 207.432 
L 74.862 203.283 
L 75.6 203.13 
L 76.194 204.174 
L 76.788 203.436 
L 77.526 204.471 
L 77.823 204.768 
L 78.273 207.432 
L 78.714 205.362 
L 79.452 204.615 
L 80.19 205.209 
L 80.937 204.768 
L 81.531 203.58 
L 82.413 205.065 
L 83.16 204.471 
L 84.636 204.768 
L 85.374 204.768 
L 86.121 205.956 
L 86.859 206.244 
L 87.597 205.65 
L 88.2 205.011 
L 88.686 205.011 
L 89.172 207.126 
L 89.667 205.011 
L 91.458 205.497 
L 93.078 205.983 
L 93.897 207.45 
L 94.383 206.802 
L 96.336 207.288 
L 96.597 209.403 
L 96.984 207.612 
L 98.937 207.936 
L 100.89 208.755 
L 101.223 209.079 
L 104.472 209.727 
L 107.73 211.032 
L 110.988 212.004 
L 111.636 212.328 
L 112.284 211.032 
L 112.941 210.051 
L 113.913 209.889 
L 114.399 212.004 
L 114.894 210.213 
L 115.704 211.842 
L 116.19 210.537 
L 117.171 211.032 
L 117.882 212.661 
L 118.467 211.356 
L 120.096 211.68 
L 121.725 212.328 
L 122.211 214.281 
L 122.706 212.823 
L 124.002 213.147 
L 127.26 214.281 
L 130.518 215.1 
L 133.443 215.91 
L 133.767 217.377 
L 134.091 216.072 
L 136.368 216.567 
L 136.863 217.377 
L 137.673 216.891 
L 138.978 216.729 
L 140.931 217.701 
L 143.208 218.025 
L 144.189 217.215 
L 145.485 217.053 
L 146.79 218.682 
L 147.114 217.539 
L 148.095 218.52 
L 148.743 217.539 
L 150.039 218.187 
L 151.668 218.025 
L 152.973 219.006 
L 154.926 218.943 
L 158.184 219.267 
L 159.156 219.654 
L 160.2 219.168 
L 161.28 219.26 
L 162.18 219.412 
L 162.54 219.524 
L 163.8 219.992 
L 164.16 220.047 
L 164.34 220.048 
L 164.7 220.003 
L 165.24 219.865 
L 165.96 219.665 
L 166.32 219.608 
L 166.5 219.6 
L 166.68 219.647 
L 167.22 220.003 
L 167.4 220.05 
L 167.58 220.017 
L 167.76 219.932 
L 168.12 219.679 
L 168.48 219.445 
L 168.66 219.384 
L 168.84 219.376 
L 169.2 219.403 
L 169.74 219.495 
L 170.46 219.677 
L 171.36 219.935 
L 171.9 220.142 
L 174.96 221.419 
L 175.86 221.754 
L 180.36 223.308 
L 180.9 223.446 
L 181.08 223.517 
L 181.26 223.616 
L 181.44 223.748 
L 181.575 223.875 
L 181.62 224.048 
L 181.8 225.45 
L 181.98 225.896 
L 182.16 226.228 
L 182.34 226.473 
L 182.52 226.655 
L 182.88 226.924 
L 183.24 227.113 
L 183.6 227.25 
L 183.96 227.332 
L 184.32 227.408 
L 184.5 227.475 
L 184.68 227.743 
L 184.86 228.087 
L 184.95 228.15 
L 185.04 228.119 
L 185.22 227.907 
L 185.58 227.268 
L 185.76 227.056 
L 185.85 227.025 
L 186.3 227.043 
L 186.84 227.105 
L 187.56 227.242 
L 188.46 227.465 
L 189.36 227.721 
L 189.9 227.935 
L 190.62 228.279 
L 191.7 228.847 
L 192.42 229.291 
L 193.32 229.848 
L 194.22 230.338 
L 195.66 231.074 
L 197.46 231.944 
L 199.08 232.696 
L 203.22 234.521 
L 204.3 234.932 
L 204.66 235.105 
L 205.02 235.314 
L 205.38 235.57 
L 205.65 235.8 
L 205.74 235.915 
L 205.92 236.282 
L 206.1 236.719 
L 206.325 237.163 
L 206.64 237.524 
L 207 237.847 
L 207.36 238.102 
L 207.9 238.405 
L 208.44 238.66 
L 209.34 239.029 
L 210.78 239.612 
L 211.86 240.096 
L 217.26 242.66 
L 220.5 244.247 
L 223.74 245.877 
L 226.98 247.551 
L 230.22 249.268 
L 233.64 251.129 
L 237.24 253.132 
L 241.2 255.383 
L 245.7 257.987 
L 251.1 261.161 
L 260.1 266.505 
L 285.12 281.357 
L 304.38 292.745 
L 321.12 302.597 
L 333 309.557 
L 333 309.557 
" clip-path="url(#p02d3b5d28d)" style="fill: none; stroke: #1e90ff; stroke-linecap: square"/>
</g>
<g id="line2d_48">
<path d="M 157.086 223.722 
L 158.166 222.961 
L 159.246 222.249 
L 160.506 221.476 
L 161.766 220.753 
L 163.026 220.076 
L 164.286 219.441 
L 165.726 218.762 
L 167.166 218.126 
L 168.804 217.449 
L 170.406 216.831 
L 172.206 216.18 
L 176.346 214.724 
L 179.046 213.721 
L 183.006 212.319 
L 184.086 211.901 
L 185.166 211.439 
L 186.066 211.021 
L 186.966 210.559 
L 187.686 210.148 
L 188.406 209.69 
L 189.126 209.176 
L 189.666 208.746 
L 190.206 208.257 
L 190.746 207.711 
L 191.646 206.724 
L 191.826 206.478 
L 192.06 206.1 
L 192.186 205.838 
L 192.366 205.361 
L 193.266 202.575 
L 193.446 201.8 
L 193.626 200.74 
L 193.815 199.359 
L 193.986 197.74 
L 194.166 195.689 
L 194.346 193.223 
L 194.706 186.553 
L 194.886 182.708 
L 195.066 176.799 
L 195.246 172.238 
L 195.3 171.9 
L 195.426 173.012 
L 195.606 177.127 
L 195.786 181.726 
L 195.975 184.05 
L 196.146 183.644 
L 196.326 182.541 
L 196.866 178.254 
L 197.046 177.569 
L 197.1 177.525 
L 197.226 177.646 
L 197.406 178.199 
L 197.586 179.127 
L 197.766 180.351 
L 198 182.25 
L 198.126 183.958 
L 198.576 193.5 
L 198.666 194.852 
L 198.846 196.994 
L 199.026 198.569 
L 199.089 198.918 
L 199.206 199.367 
L 199.386 199.873 
L 199.746 200.713 
L 200.106 201.611 
L 200.286 201.881 
L 200.646 202.236 
L 200.826 202.379 
L 201.006 202.488 
L 201.186 202.558 
L 201.366 202.581 
L 201.726 202.561 
L 202.266 202.481 
L 202.626 202.408 
L 202.986 202.277 
L 203.346 202.089 
L 203.886 201.741 
L 204.966 201.012 
L 205.866 200.394 
L 208.746 198.314 
L 209.466 197.727 
L 210.186 197.076 
L 210.906 196.37 
L 211.626 195.614 
L 212.346 194.798 
L 212.886 194.134 
L 213.606 193.172 
L 214.146 192.395 
L 214.686 191.537 
L 215.1 190.8 
L 215.586 189.86 
L 215.946 189.064 
L 216.306 188.099 
L 216.486 187.526 
L 216.666 186.747 
L 217.125 184.41 
L 217.386 183.381 
L 217.746 182.031 
L 217.935 181.17 
L 218.106 180.252 
L 218.286 179.129 
L 218.547 177.093 
L 218.646 176.053 
L 219.546 164.033 
L 219.771 162.036 
L 219.906 161.185 
L 220.086 160.334 
L 220.176 160.2 
L 220.266 160.306 
L 220.446 161.038 
L 220.77 163.26 
L 220.806 163.55 
L 220.986 165.677 
L 221.166 168.296 
L 221.4 171 
L 221.706 173.21 
L 221.886 174.058 
L 222.003 174.24 
L 222.066 174.234 
L 222.246 174.152 
L 222.426 173.99 
L 222.606 173.763 
L 222.822 173.43 
L 222.966 173.021 
L 223.146 172.145 
L 223.506 169.992 
L 224.046 167.322 
L 224.226 166.686 
L 224.37 166.5 
L 224.406 166.504 
L 224.586 166.611 
L 224.946 167.003 
L 225.126 167.122 
L 225.18 167.13 
L 225.306 167.019 
L 225.486 166.533 
L 225.666 165.774 
L 226.206 162.994 
L 226.566 160.608 
L 226.926 158.056 
L 227.646 153.579 
L 227.88 152.685 
L 228.006 152.391 
L 228.186 152.04 
L 228.393 151.866 
L 228.546 152.025 
L 228.726 152.543 
L 228.906 153.292 
L 229.122 154.305 
L 229.266 155.144 
L 229.446 156.551 
L 229.806 159.725 
L 230.166 162.391 
L 230.346 163.607 
L 230.553 164.484 
L 230.706 164.801 
L 230.886 165.099 
L 231.066 165.27 
L 231.156 165.294 
L 231.246 165.199 
L 231.426 164.562 
L 231.786 162.667 
L 232.146 160.07 
L 232.326 159.248 
L 232.38 159.192 
L 232.506 159.352 
L 232.686 160.014 
L 233.046 161.95 
L 233.226 163.294 
L 233.586 166.535 
L 233.802 168.12 
L 234.126 169.835 
L 234.306 170.647 
L 234.621 171.81 
L 234.846 172.492 
L 235.206 173.456 
L 235.386 173.868 
L 235.566 174.227 
L 235.836 174.654 
L 236.286 175.232 
L 236.466 175.431 
L 236.646 175.595 
L 236.826 175.711 
L 237.06 175.77 
L 237.366 175.747 
L 237.726 175.669 
L 238.086 175.544 
L 238.626 175.294 
L 238.806 175.188 
L 238.986 175.033 
L 239.166 174.832 
L 239.346 174.588 
L 239.706 173.991 
L 239.904 173.61 
L 240.066 173.254 
L 240.246 172.781 
L 240.426 172.211 
L 240.606 171.532 
L 240.786 170.729 
L 240.966 169.789 
L 241.146 168.675 
L 241.326 166.738 
L 242.046 156.61 
L 242.226 154.459 
L 242.406 153.214 
L 242.586 152.401 
L 242.766 152.074 
L 242.946 152.327 
L 243.126 152.917 
L 243.36 153.9 
L 243.486 154.577 
L 243.666 155.918 
L 244.026 158.989 
L 244.386 161.456 
L 244.566 162.578 
L 244.746 163.218 
L 244.8 163.26 
L 244.926 163.219 
L 245.106 163.035 
L 245.286 162.738 
L 245.61 162.036 
L 245.646 161.94 
L 245.826 161.17 
L 246.186 159.003 
L 246.42 157.95 
L 246.726 157.092 
L 246.906 156.678 
L 247.086 156.405 
L 247.23 156.33 
L 247.266 156.338 
L 247.446 156.582 
L 247.626 157.098 
L 247.986 158.556 
L 248.04 158.787 
L 248.166 159.468 
L 248.346 160.806 
L 248.706 163.681 
L 248.886 164.636 
L 249.246 166.001 
L 249.426 166.578 
L 249.606 167.087 
L 249.786 167.529 
L 250.083 168.12 
L 250.506 168.808 
L 250.686 169.061 
L 250.866 169.274 
L 251.046 169.438 
L 251.28 169.56 
L 251.586 169.63 
L 252.126 169.709 
L 253.386 169.858 
L 253.926 169.992 
L 254.826 170.285 
L 255.366 170.448 
L 255.726 170.529 
L 256.086 170.577 
L 256.446 170.581 
L 256.806 170.529 
L 257.166 170.431 
L 257.706 170.226 
L 258.966 169.704 
L 260.226 169.31 
L 262.746 168.515 
L 266.346 167.333 
L 268.866 166.475 
L 270.126 166.009 
L 272.466 165.135 
L 273.366 164.841 
L 274.626 164.476 
L 276.246 164.048 
L 280.566 162.932 
L 282.546 162.401 
L 283.626 162.154 
L 284.706 161.955 
L 287.406 161.491 
L 288.666 161.203 
L 289.926 160.872 
L 291.006 160.549 
L 292.086 160.187 
L 292.986 159.843 
L 293.886 159.452 
L 294.786 159.017 
L 295.686 158.538 
L 296.586 158.018 
L 297.126 157.672 
L 297.846 157.153 
L 298.746 156.438 
L 300.186 155.219 
L 300.906 154.573 
L 301.986 153.535 
L 303.3 152.28 
L 304.146 151.539 
L 305.406 150.446 
L 306 149.877 
L 306.486 149.362 
L 307.206 148.532 
L 311.346 143.57 
L 314.766 139.479 
L 315.846 138.277 
L 317.826 136.149 
L 319.266 134.652 
L 320.886 133.031 
L 323.046 130.936 
L 323.586 130.496 
L 324.126 130.116 
L 325.386 129.261 
L 325.746 128.972 
L 326.286 128.48 
L 327.366 127.466 
L 327.726 127.177 
L 328.446 126.659 
L 329.166 126.193 
L 329.706 125.883 
L 330.246 125.617 
L 331.506 125.058 
L 333.486 124.044 
L 334.206 123.782 
L 335.106 123.502 
L 335.826 123.314 
L 336.906 123.084 
L 337.806 122.926 
L 338.706 122.813 
L 339.966 122.698 
L 341.046 122.64 
L 343.206 122.585 
L 344.646 122.586 
L 346.086 122.631 
L 347.526 122.714 
L 348.246 122.802 
L 349.326 122.98 
L 350.046 123.122 
L 350.946 123.35 
L 357.426 125.139 
L 358.2 125.388 
L 358.866 125.644 
L 359.766 126.037 
L 365.526 128.716 
L 366.066 129.005 
L 366.606 129.338 
L 367.506 129.956 
L 368.586 130.704 
L 371.466 132.609 
L 373.086 133.741 
L 374.706 134.789 
L 379.206 137.726 
L 379.926 138.243 
L 382.086 139.89 
L 384.426 141.64 
L 385.875 142.713 
L 386.946 143.563 
L 389.286 145.438 
L 390.906 146.694 
L 392.805 148.14 
L 393.786 148.95 
L 395.586 150.501 
L 397.206 151.875 
L 399.726 154.005 
L 401.346 155.445 
L 403.686 157.584 
L 406.386 160.084 
L 408.006 161.496 
L 409.806 163.072 
L 412.146 165.18 
L 413.406 166.36 
L 414.846 167.714 
L 416.826 169.508 
L 417.6 170.19 
L 417.6 170.19 
" clip-path="url(#p02d3b5d28d)" style="fill: none; stroke: #ff4500; stroke-linecap: square"/>
</g>
<g id="line2d_49">
<path d="M 157.05 268.425 
L 158.67 267.273 
L 160.29 266.167 
L 162 265.05 
L 163.53 264.098 
L 165.33 263.027 
L 167.31 261.891 
L 169.47 260.708 
L 173.25 258.637 
L 177.39 256.382 
L 179.19 255.395 
L 180.27 254.763 
L 181.71 253.868 
L 183.15 252.924 
L 184.77 251.811 
L 186.21 250.78 
L 187.65 249.697 
L 188.91 248.698 
L 189.99 247.8 
L 190.53 247.311 
L 191.43 246.422 
L 191.79 246.029 
L 192.15 245.575 
L 192.51 245.034 
L 192.87 244.362 
L 193.23 243.527 
L 193.59 242.492 
L 193.77 241.842 
L 193.95 241.057 
L 194.175 239.85 
L 194.31 239.005 
L 194.49 237.499 
L 194.625 235.8 
L 194.67 234.787 
L 194.94 224.1 
L 195.03 221.902 
L 195.21 218.38 
L 195.3 217.8 
L 195.39 218.057 
L 195.57 219.686 
L 195.75 221.85 
L 196.11 228.264 
L 196.2 228.825 
L 196.29 228.401 
L 196.47 226.066 
L 196.65 224.1 
L 196.83 223.322 
L 197.01 222.823 
L 197.1 222.75 
L 197.19 222.973 
L 197.55 225.45 
L 198 226.8 
L 198.09 227.51 
L 198.27 230.061 
L 198.45 233.1 
L 198.63 236.661 
L 198.675 237.15 
L 198.81 237.872 
L 198.99 238.476 
L 199.17 238.784 
L 199.35 238.999 
L 199.53 239.175 
L 199.71 239.305 
L 199.89 239.382 
L 200.07 239.399 
L 200.25 239.38 
L 200.61 239.282 
L 201.15 239.051 
L 201.69 238.794 
L 202.05 238.575 
L 202.59 238.195 
L 204.03 237.15 
L 205.47 236.077 
L 209.25 233.17 
L 210.33 232.304 
L 211.23 231.54 
L 212.49 230.401 
L 213.21 229.699 
L 213.75 229.124 
L 214.29 228.49 
L 214.83 227.78 
L 215.37 226.978 
L 215.73 226.382 
L 216.27 225.389 
L 216.63 224.644 
L 216.99 223.78 
L 217.35 222.75 
L 217.53 222.14 
L 217.71 221.437 
L 217.89 220.634 
L 218.07 219.724 
L 218.25 218.7 
L 218.43 217.397 
L 218.97 212.448 
L 219.33 208.917 
L 219.51 207.486 
L 219.69 206.611 
L 219.87 205.939 
L 220.05 205.65 
L 220.23 206.317 
L 220.95 211.774 
L 221.175 213.3 
L 221.49 215.137 
L 221.67 215.985 
L 221.85 216.45 
L 222.03 216.642 
L 222.21 216.789 
L 222.39 216.878 
L 222.57 216.894 
L 222.75 216.77 
L 222.93 216.518 
L 223.2 216 
L 223.29 215.755 
L 223.47 215.022 
L 223.65 214.2 
L 223.83 213.233 
L 224.01 212.132 
L 224.19 211.285 
L 224.325 211.05 
L 224.37 211.056 
L 224.55 211.167 
L 224.73 211.342 
L 224.91 211.478 
L 225 211.5 
L 225.09 211.47 
L 225.27 211.26 
L 225.45 210.908 
L 225.675 210.375 
L 225.81 209.968 
L 225.99 209.215 
L 226.35 207.311 
L 227.97 198.568 
L 228.15 198.225 
L 228.33 198.307 
L 228.51 198.527 
L 228.69 198.845 
L 228.87 199.241 
L 229.05 200.031 
L 229.5 202.95 
L 229.59 203.54 
L 230.13 207.657 
L 230.31 208.563 
L 230.4 208.8 
L 230.67 209.2 
L 230.85 209.384 
L 231.075 209.475 
L 231.21 209.205 
L 231.39 208.25 
L 231.57 207.055 
L 231.75 206.1 
L 232.11 204.692 
L 232.29 204.205 
L 232.425 204.075 
L 232.47 204.105 
L 232.65 204.718 
L 233.19 207.896 
L 233.55 209.754 
L 233.73 210.314 
L 233.775 210.375 
L 233.91 210.494 
L 234.09 210.622 
L 234.27 210.705 
L 234.45 210.735 
L 234.63 210.701 
L 234.81 210.61 
L 234.99 210.474 
L 235.35 210.128 
L 235.8 209.7 
L 236.25 209.309 
L 236.79 208.833 
L 237.15 208.575 
L 237.69 208.28 
L 238.05 208.119 
L 238.41 207.992 
L 238.95 207.86 
L 239.49 207.722 
L 239.85 207.587 
L 240.21 207.414 
L 240.39 207.301 
L 240.57 207.165 
L 240.75 207 
L 240.93 206.743 
L 241.11 206.351 
L 241.425 205.425 
L 241.47 205.262 
L 241.65 204.381 
L 242.19 201.045 
L 242.55 198.588 
L 242.73 197.941 
L 242.775 197.91 
L 242.91 198.1 
L 243.09 198.801 
L 244.17 204.488 
L 244.53 205.965 
L 244.71 206.442 
L 244.8 206.55 
L 245.07 206.688 
L 245.25 206.747 
L 245.475 206.775 
L 245.61 206.67 
L 245.79 206.281 
L 246.15 205.2 
L 246.33 204.583 
L 246.51 203.859 
L 246.69 203.232 
L 246.87 202.895 
L 247.05 202.7 
L 247.275 202.59 
L 247.41 202.705 
L 247.59 203.131 
L 248.13 204.896 
L 248.67 206.938 
L 248.85 207.45 
L 249.21 208.244 
L 249.39 208.578 
L 249.57 208.844 
L 249.75 209.025 
L 250.11 209.266 
L 250.29 209.362 
L 250.47 209.432 
L 250.74 209.475 
L 250.83 209.47 
L 251.01 209.43 
L 251.19 209.356 
L 251.55 209.132 
L 252.81 208.203 
L 253.71 207.588 
L 254.25 207.171 
L 254.79 206.688 
L 255.15 206.296 
L 255.69 205.615 
L 257.13 203.656 
L 258.03 202.397 
L 259.29 200.769 
L 259.65 200.372 
L 259.83 200.21 
L 260.1 200.025 
L 260.37 199.882 
L 260.73 199.727 
L 261.27 199.546 
L 262.17 199.31 
L 264.33 198.794 
L 267.21 198.177 
L 287.01 193.687 
L 293.31 192.309 
L 298.8 191.15 
L 303.57 190.182 
L 307.89 189.343 
L 310.77 188.82 
L 313.11 188.431 
L 315.27 188.112 
L 317.25 187.862 
L 319.05 187.674 
L 320.85 187.529 
L 322.47 187.439 
L 324.09 187.388 
L 325.71 187.38 
L 327.15 187.411 
L 328.59 187.48 
L 330.03 187.587 
L 331.47 187.736 
L 332.91 187.928 
L 334.35 188.161 
L 335.79 188.436 
L 337.23 188.75 
L 338.67 189.104 
L 340.11 189.495 
L 341.73 189.979 
L 343.35 190.507 
L 344.97 191.079 
L 346.59 191.693 
L 348.21 192.347 
L 350.01 193.12 
L 351.81 193.938 
L 353.61 194.802 
L 355.41 195.712 
L 357.264 196.697 
L 359.01 197.67 
L 360.81 198.718 
L 362.61 199.813 
L 364.41 200.954 
L 366.21 202.141 
L 368.01 203.375 
L 369.81 204.656 
L 371.61 205.983 
L 373.59 207.492 
L 375.75 209.193 
L 377.91 210.946 
L 380.25 212.896 
L 382.779 215.055 
L 385.65 217.561 
L 388.89 220.443 
L 392.67 223.862 
L 397.35 228.153 
L 413.55 243.062 
L 417.15 246.293 
L 417.6 246.693 
L 417.6 246.693 
" clip-path="url(#p02d3b5d28d)" style="fill: none; stroke: #2f4f4f; stroke-linecap: square"/>
</g>
<g id="LineCollection_1">
<path clip-path="url(#p02d3b5d28d)" style="fill: none; stroke: #8c000f; stroke-width: 0.5"/>
</g>
<g id="line2d_50">
<defs>
<path id="mc7239830b7" d="M -3 3 
L 3 3 
L 3 -3 
L -3 -3 
z
" style="stroke: #8c000f; stroke-width: 0.7; stroke-linejoin: miter"/>
</defs>
<g clip-path="url(#p02d3b5d28d)"/>
</g>
<g id="patch_3">
<path d="M 57.6 307.584 
L 57.6 41.472 
" style="fill: none; stroke: #000000; stroke-width: 0.8; stroke-linejoin: miter; stroke-linecap: square"/>
</g>
<g id="patch_4">
<path d="M 414.72 307.584 
L 414.72 41.472 
" style="fill: none; stroke: #000000; stroke-width: 0.8; stroke-linejoin: miter; stroke-linecap: square"/>
</g>
<g id="patch_5">
<path d="M 57.6 307.584 
L 414.72 307.584 
" style="fill: none; stroke: #000000; stroke-width: 0.8; stroke-linejoin: miter; stroke-linecap: square"/>
</g>
<g id="patch_6">
<path d="M 57.6 41.472 
L 414.72 41.472 
" style="fill: none; stroke: #000000; stroke-width: 0.8; stroke-linejoin: miter; stroke-linecap: square"/>
</g>
<g id="PathCollection_1">
<defs>
<path id="m157f48cf5a" d="M 0 1.7 
C 0.451 1.7 0.883 1.521 1.202 1.202 
C 1.521 0.883 1.7 0.451 1.7 0 
C 1.7 -0.451 1.521 -0.883 1.202 -1.202 
C 0.883 -1.521 0.451 -1.7 0 -1.7 
C -0.451 -1.7 -0.883 -1.521 -1.202 -1.202 
C -1.521 -0.883 -1.7 -0.451 -1.7 0 
C -1.7 0.451 -1.521 0.883 -1.202 1.202 
C -0.883 1.521 -0.451 1.7 0 1.7 
z
"/>
</defs>
<g clip-path="url(#p02d3b5d28d)">
<use href="#m157f48cf5a" x="78.165" y="209.727" style="fill: #15b01a"/>
<use href="#m157f48cf5a" x="93.582" y="202.734" style="fill: #15b01a"/>
<use href="#m157f48cf5a" x="110.232" y="187.551" style="fill: #15b01a"/>
<use href="#m157f48cf5a" x="121.815" y="172.71" style="fill: #15b01a"/>
<use href="#m157f48cf5a" x="131.76" y="167.265" style="fill: #15b01a"/>
<use href="#m157f48cf5a" x="139.68" y="164.61" style="fill: #15b01a"/>
<use href="#m157f48cf5a" x="146.16" y="162" style="fill: #15b01a"/>
<use href="#m157f48cf5a" x="157.995" y="159.615" style="fill: #15b01a"/>
<use href="#m157f48cf5a" x="169.02" y="157.41" style="fill: #15b01a"/>
<use href="#m157f48cf5a" x="179.46" y="160.11" style="fill: #15b01a"/>
<use href="#m157f48cf5a" x="196.425" y="165.69" style="fill: #15b01a"/>
<use href="#m157f48cf5a" x="198.81" y="166.32" style="fill: #15b01a"/>
<use href="#m157f48cf5a" x="207.54" y="171.81" style="fill: #15b01a"/>
<use href="#m157f48cf5a" x="208.8" y="172.215" style="fill: #15b01a"/>
<use href="#m157f48cf5a" x="216.9" y="168.75" style="fill: #15b01a"/>
<use href="#m157f48cf5a" x="229.23" y="160.74" style="fill: #15b01a"/>
<use href="#m157f48cf5a" x="245.403" y="162.774" style="fill: #15b01a"/>
<use href="#m157f48cf5a" x="268.794" y="165.69" style="fill: #15b01a"/>
<use href="#m157f48cf5a" x="271.035" y="165.06" style="fill: #15b01a"/>
<use href="#m157f48cf5a" x="305.685" y="147.15" style="fill: #15b01a"/>
<use href="#m157f48cf5a" x="313.2" y="140.49" style="fill: #15b01a"/>
<use href="#m157f48cf5a" x="325.8" y="128.475" style="fill: #15b01a"/>
<use href="#m157f48cf5a" x="326.61" y="127.89" style="fill: #15b01a"/>
<use href="#m157f48cf5a" x="343.35" y="122.625" style="fill: #15b01a"/>
<use href="#m157f48cf5a" x="344.7" y="122.94" style="fill: #15b01a"/>
<use href="#m157f48cf5a" x="361.89" y="126.675" style="fill: #15b01a"/>
<use href="#m157f48cf5a" x="374.715" y="134.1" style="fill: #15b01a"/>
<use href="#m157f48cf5a" x="389.16" y="144.225" style="fill: #15b01a"/>
<use href="#m157f48cf5a" x="391.5" y="146.475" style="fill: #15b01a"/>
<use href="#m157f48cf5a" x="407.925" y="161.01" style="fill: #15b01a"/>
</g>
</g>
<g id="line2d_51">
<g clip-path="url(#p02d3b5d28d)">
<use href="#mc7239830b7" x="78.12" y="210.393" style="fill-opacity: 0; stroke: #8c000f; stroke-width: 0.7; stroke-linejoin: miter"/>
<use href="#mc7239830b7" x="93.555" y="203.805" style="fill-opacity: 0; stroke: #8c000f; stroke-width: 0.7; stroke-linejoin: miter"/>
<use href="#mc7239830b7" x="110.205" y="186.867" style="fill-opacity: 0; stroke: #8c000f; stroke-width: 0.7; stroke-linejoin: miter"/>
<use href="#mc7239830b7" x="121.815" y="173.115" style="fill-opacity: 0; stroke: #8c000f; stroke-width: 0.7; stroke-linejoin: miter"/>
<use href="#mc7239830b7" x="131.76" y="167.4" style="fill-opacity: 0; stroke: #8c000f; stroke-width: 0.7; stroke-linejoin: miter"/>
<use href="#mc7239830b7" x="139.59" y="162.306" style="fill-opacity: 0; stroke: #8c000f; stroke-width: 0.7; stroke-linejoin: miter"/>
<use href="#mc7239830b7" x="146.34" y="162.27" style="fill-opacity: 0; stroke: #8c000f; stroke-width: 0.7; stroke-linejoin: miter"/>
<use href="#mc7239830b7" x="158.013" y="157.536" style="fill-opacity: 0; stroke: #8c000f; stroke-width: 0.7; stroke-linejoin: miter"/>
<use href="#mc7239830b7" x="168.975" y="158.49" style="fill-opacity: 0; stroke: #8c000f; stroke-width: 0.7; stroke-linejoin: miter"/>
<use href="#mc7239830b7" x="179.37" y="158.625" style="fill-opacity: 0; stroke: #8c000f; stroke-width: 0.7; stroke-linejoin: miter"/>
<use href="#mc7239830b7" x="208.494" y="174.654" style="fill-opacity: 0; stroke: #8c000f; stroke-width: 0.7; stroke-linejoin: miter"/>
<use href="#mc7239830b7" x="245.403" y="161.82" style="fill-opacity: 0; stroke: #8c000f; stroke-width: 0.7; stroke-linejoin: miter"/>
<use href="#mc7239830b7" x="268.713" y="160.11" style="fill-opacity: 0; stroke: #8c000f; stroke-width: 0.7; stroke-linejoin: miter"/>
<use href="#mc7239830b7" x="271.035" y="168.75" style="fill-opacity: 0; stroke: #8c000f; stroke-width: 0.7; stroke-linejoin: miter"/>
<use href="#mc7239830b7" x="326.223" y="127.125" style="fill-opacity: 0; stroke: #8c000f; stroke-width: 0.7; stroke-linejoin: miter"/>
<use href="#mc7239830b7" x="361.8" y="123.885" style="fill-opacity: 0; stroke: #8c000f; stroke-width: 0.7; stroke-linejoin: miter"/>
<use href="#mc7239830b7" x="374.625" y="132.21" style="fill-opacity: 0; stroke: #8c000f; stroke-width: 0.7; stroke-linejoin: miter"/>
<use href="#mc7239830b7" x="374.805" y="134.19" style="fill-opacity: 0; stroke: #8c000f; stroke-width: 0.7; stroke-linejoin: miter"/>
<use href="#mc7239830b7" x="389.115" y="146.61" style="fill-opacity: 0; stroke: #8c000f; stroke-width: 0.7; stroke-linejoin: miter"/>
<use href="#mc7239830b7" x="391.455" y="144.36" style="fill-opacity: 0; stroke: #8c000f; stroke-width: 0.7; stroke-linejoin: miter"/>
</g>
</g>
<g id="line2d_52">
<path d="M 78.12 208.836 
L 78.12 212.175 
" clip-path="url(#p02d3b5d28d)" style="fill: none; stroke: #8c000f; stroke-width: 0.5; stroke-linecap: square"/>
</g>
<g id="line2d_53">
<path d="M 93.555 202.86 
L 93.555 204.75 
" clip-path="url(#p02d3b5d28d)" style="fill: none; stroke: #8c000f; stroke-width: 0.5; stroke-linecap: square"/>
</g>
<g id="line2d_54">
<path d="M 110.205 185.895 
L 110.205 187.947 
" clip-path="url(#p02d3b5d28d)" style="fill: none; stroke: #8c000f; stroke-width: 0.5; stroke-linecap: square"/>
</g>
<g id="line2d_55">
<path d="M 121.815 172.8 
L 121.815 173.475 
" clip-path="url(#p02d3b5d28d)" style="fill: none; stroke: #8c000f; stroke-width: 0.5; stroke-linecap: square"/>
</g>
<g id="line2d_56">
<path d="M 131.76 167.085 
L 131.76 167.76 
" clip-path="url(#p02d3b5d28d)" style="fill: none; stroke: #8c000f; stroke-width: 0.5; stroke-linecap: square"/>
</g>
<g id="line2d_57">
<path d="M 139.59 161.964 
L 139.59 162.801 
" clip-path="url(#p02d3b5d28d)" style="fill: none; stroke: #8c000f; stroke-width: 0.5; stroke-linecap: square"/>
</g>
<g id="line2d_58">
<path d="M 146.34 161.55 
L 146.34 163.125 
" clip-path="url(#p02d3b5d28d)" style="fill: none; stroke: #8c000f; stroke-width: 0.5; stroke-linecap: square"/>
</g>
<g id="line2d_59">
<path d="M 158.013 156.15 
L 158.013 159.075 
" clip-path="url(#p02d3b5d28d)" style="fill: none; stroke: #8c000f; stroke-width: 0.5; stroke-linecap: square"/>
</g>
<g id="line2d_60">
<path d="M 168.975 155.025 
L 168.975 163.575 
" clip-path="url(#p02d3b5d28d)" style="fill: none; stroke: #8c000f; stroke-width: 0.5; stroke-linecap: square"/>
</g>
<g id="line2d_61">
<path d="M 179.37 156.825 
L 179.37 160.875 
" clip-path="url(#p02d3b5d28d)" style="fill: none; stroke: #8c000f; stroke-width: 0.5; stroke-linecap: square"/>
</g>
<g id="line2d_62">
<path d="M 208.494 172.62 
L 208.494 176.67 
" clip-path="url(#p02d3b5d28d)" style="fill: none; stroke: #8c000f; stroke-width: 0.5; stroke-linecap: square"/>
</g>
<g id="line2d_63">
<path d="M 245.403 159.39 
L 245.403 164.484 
" clip-path="url(#p02d3b5d28d)" style="fill: none; stroke: #8c000f; stroke-width: 0.5; stroke-linecap: square"/>
</g>
<g id="line2d_64">
<path d="M 268.713 156.465 
L 268.713 164.25 
" clip-path="url(#p02d3b5d28d)" style="fill: none; stroke: #8c000f; stroke-width: 0.5; stroke-linecap: square"/>
</g>
<g id="line2d_65">
<path d="M 271.035 162.45 
L 271.035 184.824 
" clip-path="url(#p02d3b5d28d)" style="fill: none; stroke: #8c000f; stroke-width: 0.5; stroke-linecap: square"/>
</g>
<g id="line2d_66">
<path d="M 326.223 121.5 
L 326.223 139.41 
" clip-path="url(#p02d3b5d28d)" style="fill: none; stroke: #8c000f; stroke-width: 0.5; stroke-linecap: square"/>
</g>
<g id="line2d_67">
<path d="M 361.8 120.06 
L 361.8 129.96 
" clip-path="url(#p02d3b5d28d)" style="fill: none; stroke: #8c000f; stroke-width: 0.5; stroke-linecap: square"/>
</g>
<g id="line2d_68">
<path d="M 374.625 119.475 
L 374.625 315 
" clip-path="url(#p02d3b5d28d)" style="fill: none; stroke: #8c000f; stroke-width: 0.5; stroke-linecap: square"/>
</g>
<g id="line2d_69">
<path d="M 374.805 128.934 
L 374.805 142.875 
" clip-path="url(#p02d3b5d28d)" style="fill: none; stroke: #8c000f; stroke-width: 0.5; stroke-linecap: square"/>
</g>
<g id="line2d_70">
<path d="M 389.115 139.5 
L 389.115 169.74 
" clip-path="url(#p02d3b5d28d)" style="fill: none; stroke: #8c000f; stroke-width: 0.5; stroke-linecap: square"/>
</g>
<g id="line2d_71">
<path d="M 391.455 132.525 
L 391.455 315 
" clip-path="url(#p02d3b5d28d)" style="fill: none; stroke: #8c000f; stroke-width: 0.5; stroke-linecap: square"/>
</g>
<g id="legend_1">
<g id="patch_7">
<path d="M 104.486 72.432 
L 367.834 72.432 
Q 369.034 72.432 369.034 71.232 
L 369.034 45.672 
Q 369.034 44.472 367.834 44.472 
L 104.486 44.472 
Q 103.286 44.472 103.286 45.672 
L 103.286 71.232 
Q 103.286 72.432 104.486 72.432 
z
" style="fill: #ffffff; stroke: #e3e3e3; stroke-linejoin: miter"/>
</g>
<g id="line2d_72">
<path d="M 105.536 49.302 
L 111.536 49.302 
L 117.536 49.302 
" style="fill: none; stroke: #bf00bf; stroke-linecap: square"/>
</g>
<g id="T_lg0" transform="translate(-0.090 -0.090)">
<text style="font-size: 6px; font-family: 'DejaVu Sans', sans-serif; text-anchor: start" x="122.336" y="51.402" transform="rotate(-0 122.336 51.402)">Stellar old unattenuated</text>
</g>
<g id="line2d_73">
<path d="M 105.536 58.062 
L 111.536 58.062 
L 117.536 58.062 
" style="fill: none; stroke: #1e90ff; stroke-linecap: square"/>
</g>
<g id="T_lg1" transform="translate(-0.135 -0.090)">
<text style="font-size: 6px; font-family: 'DejaVu Sans', sans-serif; text-anchor: start" x="122.336" y="60.162" transform="rotate(-0 122.336 60.162)">Stellar young unattenuated</text>
</g>
<g id="line2d_74">
<path d="M 105.536 66.822 
L 111.536 66.822 
L 117.536 66.822 
" style="fill: none; stroke: #ff4500; stroke-linecap: square"/>
</g>
<g id="T_lg2" transform="translate(-0.090 -0.090)">
<text style="font-size: 6px; font-family: 'DejaVu Sans', sans-serif; text-anchor: start" x="122.336" y="68.922" transform="rotate(-0 122.336 68.922)">Diffuse dust emission</text>
</g>
<g id="line2d_75">
<path d="M 216.753 49.302 
L 222.753 49.302 
L 228.753 49.302 
" style="fill: none; stroke: #2f4f4f; stroke-linecap: square"/>
</g>
<g id="T_lg3" transform="translate(-0.090 -0.090)">
<text style="font-size: 6px; font-family: 'DejaVu Sans', sans-serif; text-anchor: start" x="233.553" y="51.402" transform="rotate(-0 233.553 51.402)">PDR dust emission</text>
</g>
<g id="line2d_76">
<path d="M 216.753 58.062 
L 222.753 58.062 
L 228.753 58.062 
" style="fill: none; stroke: #000000; stroke-width: 0.5; stroke-linecap: square"/>
</g>
<g id="T_lg4" transform="translate(-0.090 -0.090)">
<text style="font-size: 6px; font-family: 'DejaVu Sans', sans-serif; text-anchor: start" x="233.553" y="60.162" transform="rotate(-0 233.553 60.162)">Model spectrum</text>
</g>
<g id="PathCollection_2">
<g>
<use href="#m157f48cf5a" x="307.365" y="49.827" style="fill: #15b01a"/>
</g>
</g>
<g id="T_lg5" transform="translate(-0.090 -0.090)">
<text style="font-size: 6px; font-family: 'DejaVu Sans', sans-serif; text-anchor: start" x="318.165" y="51.402" transform="rotate(-0 318.165 51.402)">Model fluxes</text>
</g>
<g id="LineCollection_2">
<path d="M 307.365 61.062 
L 307.365 55.062 
" style="fill: none; stroke: #8c000f; stroke-width: 0.5"/>
</g>
<g id="line2d_77"/>
<g id="line2d_78">
<g>
<use href="#mc7239830b7" x="307.365" y="58.062" style="fill-opacity: 0; stroke: #8c000f; stroke-width: 0.7; stroke-linejoin: miter"/>
</g>
</g>
<g id="T_lg6" transform="translate(-0.045 -0.090)">
<text style="font-size: 6px; font-family: 'DejaVu Sans', sans-serif; text-anchor: start" x="318.165" y="60.162" transform="rotate(-0 318.165 60.162)">Observed fluxes</text>
</g>
</g>
</g>
<g id="T_title" transform="translate(0.090 0.090)">
<g transform="translate(99.232 17.928)">
<text>
<tspan x="0" y="-0.172" style="font-size: 12px; font-family: 'DejaVu Sans', sans-serif">B</tspan>
<tspan x="8.232" y="-0.172" style="font-size: 12px; font-family: 'DejaVu Sans', sans-serif">e</tspan>
<tspan x="15.615" y="-0.172" style="font-size: 12px; font-family: 'DejaVu Sans', sans-serif">s</tspan>
<tspan x="21.867" y="-0.172" style="font-size: 12px; font-family: 'DejaVu Sans', sans-serif">t</tspan>
<tspan x="26.572" y="-0.172" style="font-size: 12px; font-family: 'DejaVu Sans', sans-serif"> </tspan>
<tspan x="30.387" y="-0.172" style="font-size: 12px; font-family: 'DejaVu Sans', sans-serif">m</tspan>
<tspan x="42.076" y="-0.172" style="font-size: 12px; font-family: 'DejaVu Sans', sans-serif">o</tspan>
<tspan x="49.418" y="-0.172" style="font-size: 12px; font-family: 'DejaVu Sans', sans-serif">d</tspan>
<tspan x="57.035" y="-0.172" style="font-size: 12px; font-family: 'DejaVu Sans', sans-serif">e</tspan>
<tspan x="64.418" y="-0.172" style="font-size: 12px; font-family: 'DejaVu Sans', sans-serif">l</tspan>
<tspan x="67.752" y="-0.172" style="font-size: 12px; font-family: 'DejaVu Sans', sans-serif"> </tspan>
<tspan x="71.566" y="-0.172" style="font-size: 12px; font-family: 'DejaVu Sans', sans-serif">f</tspan>
<tspan x="75.791" y="-0.172" style="font-size: 12px; font-family: 'DejaVu Sans', sans-serif">o</tspan>
<tspan x="83.133" y="-0.172" style="font-size: 12px; font-family: 'DejaVu Sans', sans-serif">r</tspan>
<tspan x="88.066" y="-0.172" style="font-size: 12px; font-family: 'DejaVu Sans', sans-serif"> </tspan>
<tspan x="91.881" y="-0.172" style="font-size: 12px; font-family: 'DejaVu Sans', sans-serif">N</tspan>
<tspan x="100.857" y="-0.172" style="font-size: 12px; font-family: 'DejaVu Sans', sans-serif">G</tspan>
<tspan x="110.156" y="-0.172" style="font-size: 12px; font-family: 'DejaVu Sans', sans-serif">C</tspan>
<tspan x="118.535" y="-0.172" style="font-size: 12px; font-family: 'DejaVu Sans', sans-serif">4</tspan>
<tspan x="126.17" y="-0.172" style="font-size: 12px; font-family: 'DejaVu Sans', sans-serif">5</tspan>
<tspan x="133.805" y="-0.172" style="font-size: 12px; font-family: 'DejaVu Sans', sans-serif">7</tspan>
<tspan x="141.439" y="-0.172" style="font-size: 12px; font-family: 'DejaVu Sans', sans-serif">1</tspan>
<tspan x="149.074" y="-0.172" style="font-size: 12px; font-family: 'DejaVu Sans', sans-serif">.</tspan>
<tspan x="152.889" y="-0.172" style="font-size: 12px; font-family: 'DejaVu Sans', sans-serif"> </tspan>
<tspan x="156.703" y="-0.172" style="font-size: 12px; font-family: 'DejaVu Sans', sans-serif">R</tspan>
<tspan x="165.041" y="-0.172" style="font-size: 12px; font-family: 'DejaVu Sans', sans-serif">e</tspan>
<tspan x="172.424" y="-0.172" style="font-size: 12px; font-family: 'DejaVu Sans', sans-serif">d</tspan>
<tspan x="180.041" y="-0.172" style="font-size: 12px; font-family: 'DejaVu Sans', sans-serif">u</tspan>
<tspan x="187.646" y="-0.172" style="font-size: 12px; font-family: 'DejaVu Sans', sans-serif">c</tspan>
<tspan x="194.244" y="-0.172" style="font-size: 12px; font-family: 'DejaVu Sans', sans-serif">e</tspan>
<tspan x="201.627" y="-0.172" style="font-size: 12px; font-family: 'DejaVu Sans', sans-serif">d</tspan>
<tspan x="209.244" y="-0.172" style="font-size: 12px; font-family: 'DejaVu Sans', sans-serif"> </tspan>
<tspan x="226.369" y="-0.172" style="font-size: 12px; font-family: 'DejaVu Sans', sans-serif">=</tspan>
<tspan x="236.423" y="-0.172" style="font-size: 12px; font-family: 'DejaVu Sans', sans-serif">1</tspan>
<tspan x="244.058" y="-0.172" style="font-size: 12px; font-family: 'DejaVu Sans', sans-serif">.</tspan>
<tspan x="247.872" y="-0.172" style="font-size: 12px; font-family: 'DejaVu Sans', sans-serif">1</tspan>
<tspan x="255.507" y="-0.172" style="font-size: 12px; font-family: 'DejaVu Sans', sans-serif">5</tspan>
<tspan x="213.059" y="-0.172" style="font-style: oblique; font-size: 12px; font-family: 'DejaVu Sans', sans-serif">χ</tspan>
<tspan x="220.696" y="-4.766" style="font-size: 8.4px; font-family: 'DejaVu Sans', sans-serif">2</tspan>
</text>
</g>
</g>
</g>
<defs>
<clipPath id="p02d3b5d28d">
<rect x="57.6" y="41.472" width="357.12" height="266.112"/>
</clipPath>
</defs>
</svg>

</body></html>
